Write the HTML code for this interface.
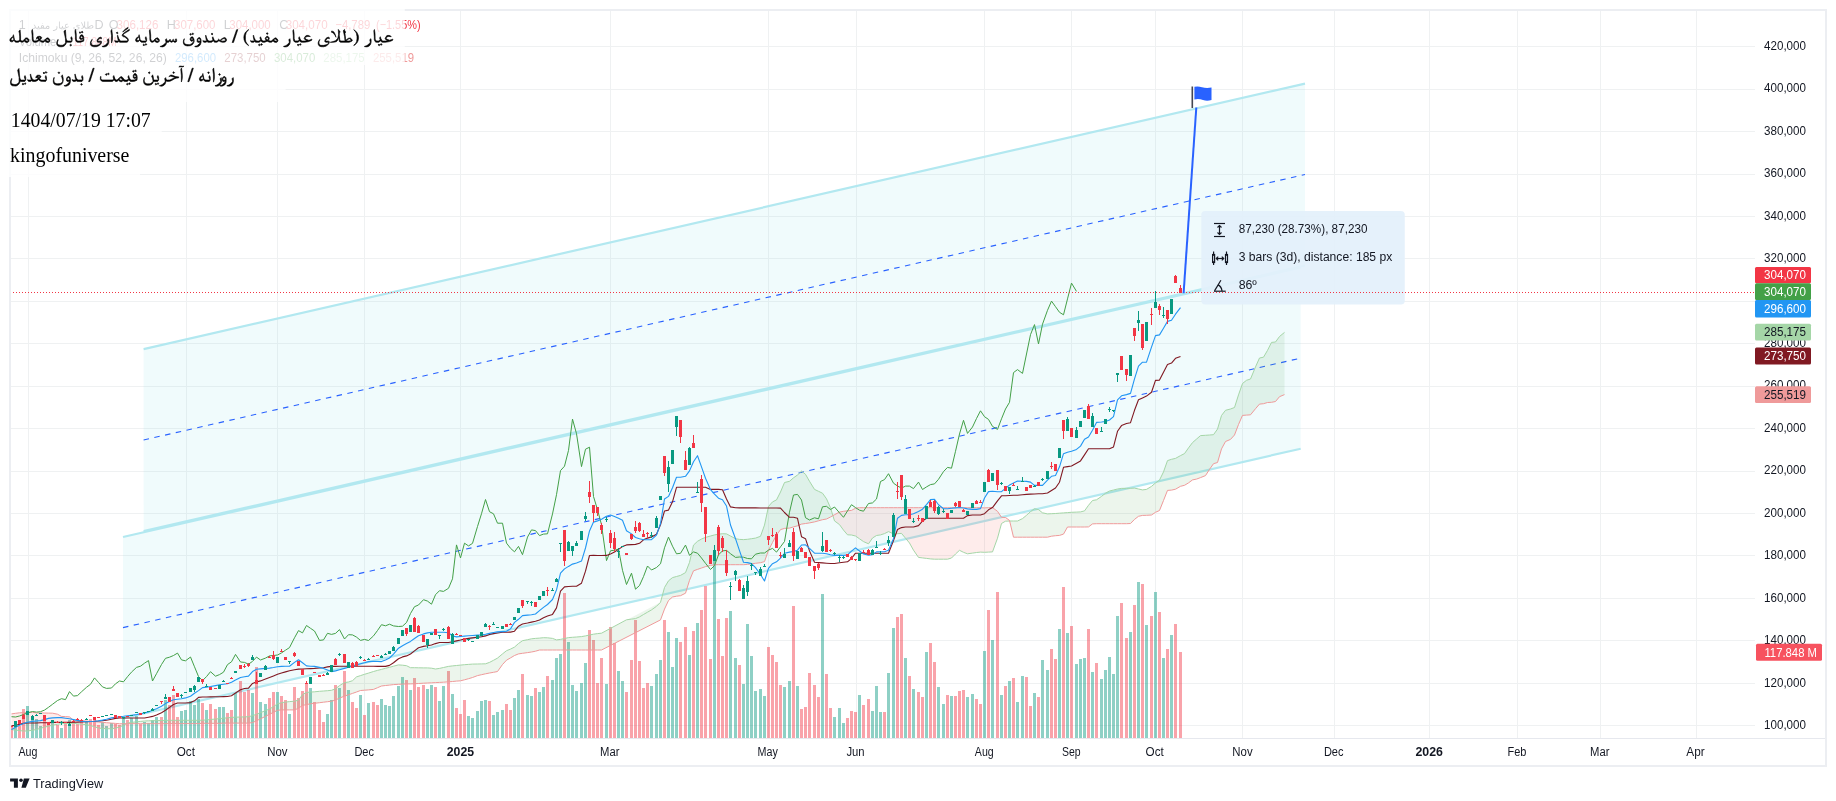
<!DOCTYPE html>
<html><head><meta charset="utf-8"><style>
html,body{margin:0;padding:0;background:#fff;width:1836px;height:801px;overflow:hidden;position:relative;font-family:"Liberation Sans",sans-serif}
</style></head><body>
<svg width="1836" height="801" viewBox="0 0 1836 801" style="position:absolute;left:0;top:0"><line x1="10" y1="725.5" x2="1755" y2="725.5" stroke="#eff1f2" stroke-width="1"/><line x1="10" y1="683.5" x2="1755" y2="683.5" stroke="#eff1f2" stroke-width="1"/><line x1="10" y1="640.5" x2="1755" y2="640.5" stroke="#eff1f2" stroke-width="1"/><line x1="10" y1="598.5" x2="1755" y2="598.5" stroke="#eff1f2" stroke-width="1"/><line x1="10" y1="555.5" x2="1755" y2="555.5" stroke="#eff1f2" stroke-width="1"/><line x1="10" y1="513.5" x2="1755" y2="513.5" stroke="#eff1f2" stroke-width="1"/><line x1="10" y1="471.5" x2="1755" y2="471.5" stroke="#eff1f2" stroke-width="1"/><line x1="10" y1="428.5" x2="1755" y2="428.5" stroke="#eff1f2" stroke-width="1"/><line x1="10" y1="386.5" x2="1755" y2="386.5" stroke="#eff1f2" stroke-width="1"/><line x1="10" y1="343.5" x2="1755" y2="343.5" stroke="#eff1f2" stroke-width="1"/><line x1="10" y1="301.5" x2="1755" y2="301.5" stroke="#eff1f2" stroke-width="1"/><line x1="10" y1="258.5" x2="1755" y2="258.5" stroke="#eff1f2" stroke-width="1"/><line x1="10" y1="216.5" x2="1755" y2="216.5" stroke="#eff1f2" stroke-width="1"/><line x1="10" y1="174.5" x2="1755" y2="174.5" stroke="#eff1f2" stroke-width="1"/><line x1="10" y1="131.5" x2="1755" y2="131.5" stroke="#eff1f2" stroke-width="1"/><line x1="10" y1="89.5" x2="1755" y2="89.5" stroke="#eff1f2" stroke-width="1"/><line x1="10" y1="46.5" x2="1755" y2="46.5" stroke="#eff1f2" stroke-width="1"/><line x1="28.5" y1="10" x2="28.5" y2="738" stroke="#eff1f2" stroke-width="1"/><line x1="186.5" y1="10" x2="186.5" y2="738" stroke="#eff1f2" stroke-width="1"/><line x1="277.5" y1="10" x2="277.5" y2="738" stroke="#eff1f2" stroke-width="1"/><line x1="364.5" y1="10" x2="364.5" y2="738" stroke="#eff1f2" stroke-width="1"/><line x1="460.5" y1="10" x2="460.5" y2="738" stroke="#eff1f2" stroke-width="1"/><line x1="610.5" y1="10" x2="610.5" y2="738" stroke="#eff1f2" stroke-width="1"/><line x1="768.5" y1="10" x2="768.5" y2="738" stroke="#eff1f2" stroke-width="1"/><line x1="856.5" y1="10" x2="856.5" y2="738" stroke="#eff1f2" stroke-width="1"/><line x1="984.5" y1="10" x2="984.5" y2="738" stroke="#eff1f2" stroke-width="1"/><line x1="1071.5" y1="10" x2="1071.5" y2="738" stroke="#eff1f2" stroke-width="1"/><line x1="1155.5" y1="10" x2="1155.5" y2="738" stroke="#eff1f2" stroke-width="1"/><line x1="1242.5" y1="10" x2="1242.5" y2="738" stroke="#eff1f2" stroke-width="1"/><line x1="1334.5" y1="10" x2="1334.5" y2="738" stroke="#eff1f2" stroke-width="1"/><line x1="1429.5" y1="10" x2="1429.5" y2="738" stroke="#eff1f2" stroke-width="1"/><line x1="1517.5" y1="10" x2="1517.5" y2="738" stroke="#eff1f2" stroke-width="1"/><line x1="1600.5" y1="10" x2="1600.5" y2="738" stroke="#eff1f2" stroke-width="1"/><line x1="1696.5" y1="10" x2="1696.5" y2="738" stroke="#eff1f2" stroke-width="1"/><polygon points="143.6,349.1 1305,83.6 1305,265.5 143.6,531.0" fill="rgba(128,222,234,0.12)"/><polygon points="123,537.0 1300.7,267.5 1300.7,448.7 123,718.2" fill="rgba(128,222,234,0.12)"/><line x1="143.6" y1="349.1" x2="1305" y2="83.6" stroke="#b2e8f0" stroke-width="2.2"/><line x1="143.6" y1="531.0" x2="1305" y2="265.5" stroke="#b2e8f0" stroke-width="2.2"/><line x1="143.6" y1="440.0" x2="1305" y2="174.5" stroke="#2962ff" stroke-width="1.1" stroke-dasharray="5.5 5.5"/><line x1="123" y1="537.0" x2="1300.7" y2="267.5" stroke="#b2e8f0" stroke-width="2.2"/><line x1="123" y1="718.2" x2="1300.7" y2="448.7" stroke="#b2e8f0" stroke-width="2.2"/><line x1="123" y1="627.6" x2="1300.7" y2="358.1" stroke="#2962ff" stroke-width="1.1" stroke-dasharray="5.5 5.5"/><g shape-rendering="crispEdges"><rect x="10" y="727" width="3" height="11" fill="rgba(242,54,69,0.46)"/><rect x="14" y="721" width="3" height="17" fill="rgba(8,153,129,0.46)"/><rect x="18" y="726" width="3" height="12" fill="rgba(242,54,69,0.46)"/><rect x="22" y="709" width="3" height="29" fill="rgba(242,54,69,0.46)"/><rect x="26" y="706" width="3" height="32" fill="rgba(8,153,129,0.46)"/><rect x="31" y="716" width="3" height="22" fill="rgba(8,153,129,0.46)"/><rect x="35" y="719" width="3" height="19" fill="rgba(8,153,129,0.46)"/><rect x="39" y="726" width="3" height="12" fill="rgba(8,153,129,0.46)"/><rect x="43" y="720" width="3" height="18" fill="rgba(242,54,69,0.46)"/><rect x="47" y="722" width="3" height="16" fill="rgba(242,54,69,0.46)"/><rect x="51" y="720" width="3" height="18" fill="rgba(8,153,129,0.46)"/><rect x="56" y="725" width="3" height="13" fill="rgba(242,54,69,0.46)"/><rect x="60" y="728" width="3" height="10" fill="rgba(8,153,129,0.46)"/><rect x="64" y="723" width="3" height="15" fill="rgba(242,54,69,0.46)"/><rect x="68" y="720" width="3" height="18" fill="rgba(8,153,129,0.46)"/><rect x="72" y="721" width="3" height="17" fill="rgba(242,54,69,0.46)"/><rect x="76" y="724" width="3" height="14" fill="rgba(242,54,69,0.46)"/><rect x="80" y="722" width="3" height="16" fill="rgba(242,54,69,0.46)"/><rect x="85" y="722" width="3" height="16" fill="rgba(8,153,129,0.46)"/><rect x="89" y="719" width="3" height="19" fill="rgba(242,54,69,0.46)"/><rect x="93" y="720" width="3" height="18" fill="rgba(242,54,69,0.46)"/><rect x="97" y="725" width="3" height="13" fill="rgba(242,54,69,0.46)"/><rect x="101" y="722" width="3" height="16" fill="rgba(8,153,129,0.46)"/><rect x="105" y="726" width="3" height="12" fill="rgba(8,153,129,0.46)"/><rect x="110" y="723" width="3" height="15" fill="rgba(8,153,129,0.46)"/><rect x="114" y="724" width="3" height="14" fill="rgba(242,54,69,0.46)"/><rect x="118" y="725" width="3" height="13" fill="rgba(242,54,69,0.46)"/><rect x="122" y="718" width="3" height="20" fill="rgba(8,153,129,0.46)"/><rect x="126" y="720" width="3" height="18" fill="rgba(242,54,69,0.46)"/><rect x="130" y="718" width="3" height="20" fill="rgba(8,153,129,0.46)"/><rect x="135" y="716" width="3" height="22" fill="rgba(8,153,129,0.46)"/><rect x="139" y="724" width="3" height="14" fill="rgba(242,54,69,0.46)"/><rect x="143" y="722" width="3" height="16" fill="rgba(8,153,129,0.46)"/><rect x="147" y="723" width="3" height="15" fill="rgba(8,153,129,0.46)"/><rect x="151" y="720" width="3" height="18" fill="rgba(8,153,129,0.46)"/><rect x="155" y="717" width="3" height="21" fill="rgba(8,153,129,0.46)"/><rect x="160" y="717" width="3" height="21" fill="rgba(242,54,69,0.46)"/><rect x="164" y="700" width="3" height="38" fill="rgba(8,153,129,0.46)"/><rect x="168" y="705" width="3" height="33" fill="rgba(242,54,69,0.46)"/><rect x="172" y="695" width="3" height="43" fill="rgba(242,54,69,0.46)"/><rect x="176" y="717" width="3" height="21" fill="rgba(242,54,69,0.46)"/><rect x="180" y="711" width="3" height="27" fill="rgba(8,153,129,0.46)"/><rect x="184" y="710" width="3" height="28" fill="rgba(8,153,129,0.46)"/><rect x="189" y="701" width="3" height="37" fill="rgba(8,153,129,0.46)"/><rect x="193" y="705" width="3" height="33" fill="rgba(8,153,129,0.46)"/><rect x="197" y="699" width="3" height="39" fill="rgba(8,153,129,0.46)"/><rect x="201" y="703" width="3" height="35" fill="rgba(242,54,69,0.46)"/><rect x="205" y="710" width="3" height="28" fill="rgba(8,153,129,0.46)"/><rect x="209" y="704" width="3" height="34" fill="rgba(242,54,69,0.46)"/><rect x="214" y="709" width="3" height="29" fill="rgba(242,54,69,0.46)"/><rect x="218" y="707" width="3" height="31" fill="rgba(8,153,129,0.46)"/><rect x="222" y="707" width="3" height="31" fill="rgba(8,153,129,0.46)"/><rect x="226" y="713" width="3" height="25" fill="rgba(242,54,69,0.46)"/><rect x="230" y="710" width="3" height="28" fill="rgba(242,54,69,0.46)"/><rect x="234" y="693" width="3" height="45" fill="rgba(8,153,129,0.46)"/><rect x="239" y="681" width="3" height="57" fill="rgba(242,54,69,0.46)"/><rect x="243" y="692" width="3" height="46" fill="rgba(242,54,69,0.46)"/><rect x="247" y="690" width="3" height="48" fill="rgba(242,54,69,0.46)"/><rect x="251" y="693" width="3" height="45" fill="rgba(8,153,129,0.46)"/><rect x="255" y="667" width="3" height="71" fill="rgba(242,54,69,0.46)"/><rect x="259" y="702" width="3" height="36" fill="rgba(8,153,129,0.46)"/><rect x="264" y="704" width="3" height="34" fill="rgba(8,153,129,0.46)"/><rect x="268" y="698" width="3" height="40" fill="rgba(242,54,69,0.46)"/><rect x="272" y="692" width="3" height="46" fill="rgba(242,54,69,0.46)"/><rect x="276" y="692" width="3" height="46" fill="rgba(8,153,129,0.46)"/><rect x="280" y="696" width="3" height="42" fill="rgba(242,54,69,0.46)"/><rect x="284" y="700" width="3" height="38" fill="rgba(242,54,69,0.46)"/><rect x="288" y="714" width="3" height="24" fill="rgba(8,153,129,0.46)"/><rect x="293" y="687" width="3" height="51" fill="rgba(242,54,69,0.46)"/><rect x="297" y="698" width="3" height="40" fill="rgba(242,54,69,0.46)"/><rect x="301" y="691" width="3" height="47" fill="rgba(242,54,69,0.46)"/><rect x="305" y="684" width="3" height="54" fill="rgba(242,54,69,0.46)"/><rect x="309" y="688" width="3" height="50" fill="rgba(8,153,129,0.46)"/><rect x="313" y="702" width="3" height="36" fill="rgba(242,54,69,0.46)"/><rect x="318" y="710" width="3" height="28" fill="rgba(242,54,69,0.46)"/><rect x="322" y="722" width="3" height="16" fill="rgba(242,54,69,0.46)"/><rect x="326" y="714" width="3" height="24" fill="rgba(8,153,129,0.46)"/><rect x="330" y="700" width="3" height="38" fill="rgba(8,153,129,0.46)"/><rect x="334" y="685" width="3" height="53" fill="rgba(242,54,69,0.46)"/><rect x="338" y="688" width="3" height="50" fill="rgba(8,153,129,0.46)"/><rect x="343" y="671" width="3" height="67" fill="rgba(242,54,69,0.46)"/><rect x="347" y="690" width="3" height="48" fill="rgba(8,153,129,0.46)"/><rect x="351" y="702" width="3" height="36" fill="rgba(242,54,69,0.46)"/><rect x="355" y="708" width="3" height="30" fill="rgba(242,54,69,0.46)"/><rect x="359" y="695" width="3" height="43" fill="rgba(8,153,129,0.46)"/><rect x="363" y="715" width="3" height="23" fill="rgba(242,54,69,0.46)"/><rect x="367" y="703" width="3" height="35" fill="rgba(8,153,129,0.46)"/><rect x="372" y="702" width="3" height="36" fill="rgba(242,54,69,0.46)"/><rect x="376" y="705" width="3" height="33" fill="rgba(242,54,69,0.46)"/><rect x="380" y="699" width="3" height="39" fill="rgba(8,153,129,0.46)"/><rect x="384" y="705" width="3" height="33" fill="rgba(8,153,129,0.46)"/><rect x="388" y="706" width="3" height="32" fill="rgba(8,153,129,0.46)"/><rect x="392" y="696" width="3" height="42" fill="rgba(8,153,129,0.46)"/><rect x="397" y="686" width="3" height="52" fill="rgba(8,153,129,0.46)"/><rect x="401" y="677" width="3" height="61" fill="rgba(8,153,129,0.46)"/><rect x="405" y="680" width="3" height="58" fill="rgba(242,54,69,0.46)"/><rect x="409" y="690" width="3" height="48" fill="rgba(8,153,129,0.46)"/><rect x="413" y="678" width="3" height="60" fill="rgba(242,54,69,0.46)"/><rect x="417" y="687" width="3" height="51" fill="rgba(242,54,69,0.46)"/><rect x="422" y="685" width="3" height="53" fill="rgba(242,54,69,0.46)"/><rect x="426" y="689" width="3" height="49" fill="rgba(8,153,129,0.46)"/><rect x="430" y="685" width="3" height="53" fill="rgba(8,153,129,0.46)"/><rect x="434" y="687" width="3" height="51" fill="rgba(242,54,69,0.46)"/><rect x="438" y="701" width="3" height="37" fill="rgba(8,153,129,0.46)"/><rect x="442" y="686" width="3" height="52" fill="rgba(8,153,129,0.46)"/><rect x="447" y="671" width="3" height="67" fill="rgba(242,54,69,0.46)"/><rect x="451" y="694" width="3" height="44" fill="rgba(8,153,129,0.46)"/><rect x="455" y="708" width="3" height="30" fill="rgba(242,54,69,0.46)"/><rect x="459" y="714" width="3" height="24" fill="rgba(242,54,69,0.46)"/><rect x="463" y="700" width="3" height="38" fill="rgba(242,54,69,0.46)"/><rect x="467" y="716" width="3" height="22" fill="rgba(8,153,129,0.46)"/><rect x="471" y="718" width="3" height="20" fill="rgba(8,153,129,0.46)"/><rect x="476" y="711" width="3" height="27" fill="rgba(8,153,129,0.46)"/><rect x="480" y="701" width="3" height="37" fill="rgba(8,153,129,0.46)"/><rect x="484" y="700" width="3" height="38" fill="rgba(8,153,129,0.46)"/><rect x="488" y="701" width="3" height="37" fill="rgba(242,54,69,0.46)"/><rect x="492" y="715" width="3" height="23" fill="rgba(8,153,129,0.46)"/><rect x="496" y="712" width="3" height="26" fill="rgba(8,153,129,0.46)"/><rect x="501" y="710" width="3" height="28" fill="rgba(8,153,129,0.46)"/><rect x="505" y="704" width="3" height="34" fill="rgba(242,54,69,0.46)"/><rect x="509" y="710" width="3" height="28" fill="rgba(242,54,69,0.46)"/><rect x="513" y="698" width="3" height="40" fill="rgba(8,153,129,0.46)"/><rect x="517" y="690" width="3" height="48" fill="rgba(8,153,129,0.46)"/><rect x="521" y="674" width="3" height="64" fill="rgba(242,54,69,0.46)"/><rect x="526" y="695" width="3" height="43" fill="rgba(8,153,129,0.46)"/><rect x="530" y="696" width="3" height="42" fill="rgba(8,153,129,0.46)"/><rect x="534" y="688" width="3" height="50" fill="rgba(242,54,69,0.46)"/><rect x="538" y="692" width="3" height="46" fill="rgba(8,153,129,0.46)"/><rect x="542" y="687" width="3" height="51" fill="rgba(8,153,129,0.46)"/><rect x="546" y="676" width="3" height="62" fill="rgba(242,54,69,0.46)"/><rect x="551" y="680" width="3" height="58" fill="rgba(8,153,129,0.46)"/><rect x="555" y="658" width="3" height="80" fill="rgba(8,153,129,0.46)"/><rect x="559" y="654" width="3" height="84" fill="rgba(8,153,129,0.46)"/><rect x="563" y="593" width="3" height="145" fill="rgba(242,54,69,0.46)"/><rect x="567" y="642" width="3" height="96" fill="rgba(8,153,129,0.46)"/><rect x="571" y="685" width="3" height="53" fill="rgba(8,153,129,0.46)"/><rect x="575" y="691" width="3" height="47" fill="rgba(8,153,129,0.46)"/><rect x="580" y="683" width="3" height="55" fill="rgba(8,153,129,0.46)"/><rect x="584" y="663" width="3" height="75" fill="rgba(8,153,129,0.46)"/><rect x="588" y="630" width="3" height="108" fill="rgba(242,54,69,0.46)"/><rect x="592" y="640" width="3" height="98" fill="rgba(242,54,69,0.46)"/><rect x="596" y="683" width="3" height="55" fill="rgba(242,54,69,0.46)"/><rect x="600" y="658" width="3" height="80" fill="rgba(242,54,69,0.46)"/><rect x="605" y="684" width="3" height="54" fill="rgba(8,153,129,0.46)"/><rect x="609" y="627" width="3" height="111" fill="rgba(242,54,69,0.46)"/><rect x="613" y="643" width="3" height="95" fill="rgba(242,54,69,0.46)"/><rect x="617" y="671" width="3" height="67" fill="rgba(8,153,129,0.46)"/><rect x="621" y="681" width="3" height="57" fill="rgba(8,153,129,0.46)"/><rect x="625" y="692" width="3" height="46" fill="rgba(242,54,69,0.46)"/><rect x="630" y="660" width="3" height="78" fill="rgba(242,54,69,0.46)"/><rect x="634" y="620" width="3" height="118" fill="rgba(242,54,69,0.46)"/><rect x="638" y="661" width="3" height="77" fill="rgba(242,54,69,0.46)"/><rect x="642" y="688" width="3" height="50" fill="rgba(242,54,69,0.46)"/><rect x="646" y="683" width="3" height="55" fill="rgba(242,54,69,0.46)"/><rect x="650" y="686" width="3" height="52" fill="rgba(8,153,129,0.46)"/><rect x="655" y="674" width="3" height="64" fill="rgba(8,153,129,0.46)"/><rect x="659" y="660" width="3" height="78" fill="rgba(8,153,129,0.46)"/><rect x="663" y="620" width="3" height="118" fill="rgba(242,54,69,0.46)"/><rect x="667" y="632" width="3" height="106" fill="rgba(8,153,129,0.46)"/><rect x="671" y="667" width="3" height="71" fill="rgba(8,153,129,0.46)"/><rect x="675" y="638" width="3" height="100" fill="rgba(8,153,129,0.46)"/><rect x="679" y="642" width="3" height="96" fill="rgba(242,54,69,0.46)"/><rect x="684" y="627" width="3" height="111" fill="rgba(242,54,69,0.46)"/><rect x="688" y="655" width="3" height="83" fill="rgba(8,153,129,0.46)"/><rect x="692" y="631" width="3" height="107" fill="rgba(242,54,69,0.46)"/><rect x="696" y="623" width="3" height="115" fill="rgba(8,153,129,0.46)"/><rect x="700" y="610" width="3" height="128" fill="rgba(242,54,69,0.46)"/><rect x="704" y="586" width="3" height="152" fill="rgba(242,54,69,0.46)"/><rect x="709" y="659" width="3" height="79" fill="rgba(242,54,69,0.46)"/><rect x="713" y="561" width="3" height="177" fill="rgba(8,153,129,0.46)"/><rect x="717" y="619" width="3" height="119" fill="rgba(242,54,69,0.46)"/><rect x="721" y="656" width="3" height="82" fill="rgba(242,54,69,0.46)"/><rect x="725" y="618" width="3" height="120" fill="rgba(242,54,69,0.46)"/><rect x="729" y="611" width="3" height="127" fill="rgba(8,153,129,0.46)"/><rect x="734" y="658" width="3" height="80" fill="rgba(8,153,129,0.46)"/><rect x="738" y="665" width="3" height="73" fill="rgba(242,54,69,0.46)"/><rect x="742" y="684" width="3" height="54" fill="rgba(8,153,129,0.46)"/><rect x="746" y="624" width="3" height="114" fill="rgba(8,153,129,0.46)"/><rect x="750" y="656" width="3" height="82" fill="rgba(8,153,129,0.46)"/><rect x="754" y="691" width="3" height="47" fill="rgba(8,153,129,0.46)"/><rect x="759" y="689" width="3" height="49" fill="rgba(8,153,129,0.46)"/><rect x="763" y="696" width="3" height="42" fill="rgba(8,153,129,0.46)"/><rect x="767" y="647" width="3" height="91" fill="rgba(242,54,69,0.46)"/><rect x="771" y="655" width="3" height="83" fill="rgba(242,54,69,0.46)"/><rect x="775" y="662" width="3" height="76" fill="rgba(242,54,69,0.46)"/><rect x="779" y="685" width="3" height="53" fill="rgba(242,54,69,0.46)"/><rect x="783" y="687" width="3" height="51" fill="rgba(8,153,129,0.46)"/><rect x="788" y="681" width="3" height="57" fill="rgba(8,153,129,0.46)"/><rect x="792" y="606" width="3" height="132" fill="rgba(242,54,69,0.46)"/><rect x="796" y="686" width="3" height="52" fill="rgba(8,153,129,0.46)"/><rect x="800" y="709" width="3" height="29" fill="rgba(242,54,69,0.46)"/><rect x="804" y="707" width="3" height="31" fill="rgba(242,54,69,0.46)"/><rect x="808" y="673" width="3" height="65" fill="rgba(242,54,69,0.46)"/><rect x="813" y="685" width="3" height="53" fill="rgba(242,54,69,0.46)"/><rect x="817" y="697" width="3" height="41" fill="rgba(242,54,69,0.46)"/><rect x="821" y="594" width="3" height="144" fill="rgba(8,153,129,0.46)"/><rect x="825" y="674" width="3" height="64" fill="rgba(242,54,69,0.46)"/><rect x="829" y="708" width="3" height="30" fill="rgba(242,54,69,0.46)"/><rect x="833" y="717" width="3" height="21" fill="rgba(8,153,129,0.46)"/><rect x="838" y="708" width="3" height="30" fill="rgba(8,153,129,0.46)"/><rect x="842" y="723" width="3" height="15" fill="rgba(8,153,129,0.46)"/><rect x="846" y="718" width="3" height="20" fill="rgba(242,54,69,0.46)"/><rect x="850" y="711" width="3" height="27" fill="rgba(242,54,69,0.46)"/><rect x="854" y="712" width="3" height="26" fill="rgba(242,54,69,0.46)"/><rect x="858" y="695" width="3" height="43" fill="rgba(8,153,129,0.46)"/><rect x="862" y="705" width="3" height="33" fill="rgba(242,54,69,0.46)"/><rect x="867" y="699" width="3" height="39" fill="rgba(242,54,69,0.46)"/><rect x="871" y="711" width="3" height="27" fill="rgba(8,153,129,0.46)"/><rect x="875" y="686" width="3" height="52" fill="rgba(8,153,129,0.46)"/><rect x="879" y="712" width="3" height="26" fill="rgba(8,153,129,0.46)"/><rect x="883" y="712" width="3" height="26" fill="rgba(242,54,69,0.46)"/><rect x="887" y="673" width="3" height="65" fill="rgba(8,153,129,0.46)"/><rect x="892" y="628" width="3" height="110" fill="rgba(8,153,129,0.46)"/><rect x="896" y="617" width="3" height="121" fill="rgba(242,54,69,0.46)"/><rect x="900" y="614" width="3" height="124" fill="rgba(242,54,69,0.46)"/><rect x="904" y="658" width="3" height="80" fill="rgba(8,153,129,0.46)"/><rect x="908" y="676" width="3" height="62" fill="rgba(242,54,69,0.46)"/><rect x="912" y="689" width="3" height="49" fill="rgba(8,153,129,0.46)"/><rect x="917" y="692" width="3" height="46" fill="rgba(242,54,69,0.46)"/><rect x="921" y="697" width="3" height="41" fill="rgba(242,54,69,0.46)"/><rect x="925" y="652" width="3" height="86" fill="rgba(8,153,129,0.46)"/><rect x="929" y="643" width="3" height="95" fill="rgba(242,54,69,0.46)"/><rect x="933" y="662" width="3" height="76" fill="rgba(242,54,69,0.46)"/><rect x="937" y="687" width="3" height="51" fill="rgba(8,153,129,0.46)"/><rect x="942" y="704" width="3" height="34" fill="rgba(8,153,129,0.46)"/><rect x="946" y="695" width="3" height="43" fill="rgba(242,54,69,0.46)"/><rect x="950" y="696" width="3" height="42" fill="rgba(8,153,129,0.46)"/><rect x="954" y="696" width="3" height="42" fill="rgba(242,54,69,0.46)"/><rect x="958" y="691" width="3" height="47" fill="rgba(242,54,69,0.46)"/><rect x="962" y="690" width="3" height="48" fill="rgba(242,54,69,0.46)"/><rect x="966" y="697" width="3" height="41" fill="rgba(8,153,129,0.46)"/><rect x="971" y="694" width="3" height="44" fill="rgba(8,153,129,0.46)"/><rect x="975" y="699" width="3" height="39" fill="rgba(242,54,69,0.46)"/><rect x="979" y="704" width="3" height="34" fill="rgba(242,54,69,0.46)"/><rect x="983" y="651" width="3" height="87" fill="rgba(8,153,129,0.46)"/><rect x="987" y="610" width="3" height="128" fill="rgba(242,54,69,0.46)"/><rect x="991" y="640" width="3" height="98" fill="rgba(8,153,129,0.46)"/><rect x="996" y="592" width="3" height="146" fill="rgba(242,54,69,0.46)"/><rect x="1000" y="695" width="3" height="43" fill="rgba(8,153,129,0.46)"/><rect x="1004" y="686" width="3" height="52" fill="rgba(242,54,69,0.46)"/><rect x="1008" y="681" width="3" height="57" fill="rgba(8,153,129,0.46)"/><rect x="1012" y="678" width="3" height="60" fill="rgba(242,54,69,0.46)"/><rect x="1016" y="702" width="3" height="36" fill="rgba(8,153,129,0.46)"/><rect x="1021" y="676" width="3" height="62" fill="rgba(8,153,129,0.46)"/><rect x="1025" y="677" width="3" height="61" fill="rgba(242,54,69,0.46)"/><rect x="1029" y="706" width="3" height="32" fill="rgba(242,54,69,0.46)"/><rect x="1033" y="693" width="3" height="45" fill="rgba(8,153,129,0.46)"/><rect x="1037" y="697" width="3" height="41" fill="rgba(242,54,69,0.46)"/><rect x="1041" y="660" width="3" height="78" fill="rgba(8,153,129,0.46)"/><rect x="1046" y="670" width="3" height="68" fill="rgba(8,153,129,0.46)"/><rect x="1050" y="649" width="3" height="89" fill="rgba(242,54,69,0.46)"/><rect x="1054" y="659" width="3" height="79" fill="rgba(242,54,69,0.46)"/><rect x="1058" y="629" width="3" height="109" fill="rgba(8,153,129,0.46)"/><rect x="1062" y="587" width="3" height="151" fill="rgba(242,54,69,0.46)"/><rect x="1066" y="633" width="3" height="105" fill="rgba(8,153,129,0.46)"/><rect x="1070" y="626" width="3" height="112" fill="rgba(242,54,69,0.46)"/><rect x="1075" y="664" width="3" height="74" fill="rgba(8,153,129,0.46)"/><rect x="1079" y="659" width="3" height="79" fill="rgba(8,153,129,0.46)"/><rect x="1083" y="658" width="3" height="80" fill="rgba(8,153,129,0.46)"/><rect x="1087" y="629" width="3" height="109" fill="rgba(242,54,69,0.46)"/><rect x="1091" y="672" width="3" height="66" fill="rgba(8,153,129,0.46)"/><rect x="1095" y="663" width="3" height="75" fill="rgba(242,54,69,0.46)"/><rect x="1100" y="679" width="3" height="59" fill="rgba(8,153,129,0.46)"/><rect x="1104" y="670" width="3" height="68" fill="rgba(8,153,129,0.46)"/><rect x="1108" y="657" width="3" height="81" fill="rgba(8,153,129,0.46)"/><rect x="1112" y="674" width="3" height="64" fill="rgba(8,153,129,0.46)"/><rect x="1116" y="616" width="3" height="122" fill="rgba(8,153,129,0.46)"/><rect x="1120" y="603" width="3" height="135" fill="rgba(242,54,69,0.46)"/><rect x="1125" y="638" width="3" height="100" fill="rgba(242,54,69,0.46)"/><rect x="1129" y="632" width="3" height="106" fill="rgba(8,153,129,0.46)"/><rect x="1133" y="605" width="3" height="133" fill="rgba(242,54,69,0.46)"/><rect x="1137" y="582" width="3" height="156" fill="rgba(8,153,129,0.46)"/><rect x="1141" y="584" width="3" height="154" fill="rgba(242,54,69,0.46)"/><rect x="1145" y="625" width="3" height="113" fill="rgba(8,153,129,0.46)"/><rect x="1150" y="616" width="3" height="122" fill="rgba(242,54,69,0.46)"/><rect x="1154" y="592" width="3" height="146" fill="rgba(8,153,129,0.46)"/><rect x="1158" y="612" width="3" height="126" fill="rgba(242,54,69,0.46)"/><rect x="1162" y="658" width="3" height="80" fill="rgba(8,153,129,0.46)"/><rect x="1166" y="649" width="3" height="89" fill="rgba(242,54,69,0.46)"/><rect x="1170" y="635" width="3" height="103" fill="rgba(8,153,129,0.46)"/><rect x="1174" y="624" width="3" height="114" fill="rgba(242,54,69,0.46)"/><rect x="1179" y="652" width="3" height="86" fill="rgba(242,54,69,0.46)"/></g><polygon points="11.50,729.63 15.50,730.13 19.50,730.63 23.50,730.96 27.50,730.99 32.50,730.16 36.50,729.49 40.50,728.30 44.50,727.21 48.50,726.21 52.50,725.21 57.50,724.28 61.50,723.71 65.50,723.51 69.50,723.31 73.50,723.34 77.50,723.77 81.50,724.20 86.50,724.73 90.50,725.63 94.50,726.83 98.50,728.03 102.50,728.48 106.50,728.68 111.50,728.81 115.50,728.14 119.50,727.12 123.50,725.34 126.34,723.75 126.34,723.75 123.50,723.75 119.50,723.71 115.50,723.39 111.50,723.07 106.50,722.67 102.50,722.36 98.50,722.05 94.50,721.74 90.50,721.43 86.50,721.14 81.50,720.84 77.50,720.59 73.50,720.34 69.50,716.88 65.50,716.63 61.50,716.38 57.50,714.22 52.50,713.17 48.50,713.10 44.50,713.03 40.50,712.96 36.50,712.88 32.50,712.32 27.50,712.31 23.50,712.56 19.50,712.81 15.50,713.29 11.50,713.86" fill="rgba(244,67,54,0.1)"/><polygon points="126.34,723.75 127.50,723.09 131.50,722.43 136.50,721.77 140.50,721.37 144.50,720.97 148.50,720.82 152.50,720.72 156.50,720.62 161.50,720.49 165.50,720.39 169.50,720.33 173.50,720.33 177.50,720.33 181.50,720.33 185.50,720.33 190.50,720.33 194.50,720.33 198.50,720.33 202.50,720.20 206.50,719.90 210.50,719.48 215.50,718.96 219.50,718.62 223.50,718.22 227.50,717.82 231.50,717.42 235.50,717.23 240.50,717.02 244.50,716.86 248.50,716.69 252.50,715.67 256.50,714.17 260.50,712.67 265.50,710.65 269.50,708.98 273.50,706.58 277.50,703.78 281.50,702.70 285.50,702.13 289.50,701.60 294.50,701.18 298.50,700.05 302.50,694.55 306.50,692.44 310.50,692.11 314.50,691.77 319.50,691.34 323.50,691.00 327.50,690.66 331.50,690.31 335.50,688.78 339.50,685.58 344.50,682.64 348.50,681.98 352.50,680.74 356.50,676.87 360.50,675.60 364.50,674.32 368.50,673.05 373.50,671.50 377.50,670.44 381.50,669.38 385.50,668.32 389.50,667.26 393.50,666.20 398.50,664.93 402.50,665.16 406.50,665.74 410.50,667.68 414.50,667.73 418.50,667.79 423.50,667.85 427.50,667.91 431.50,668.25 435.50,669.05 439.50,668.35 443.50,667.46 448.50,666.35 452.50,665.86 456.50,665.49 460.50,665.12 464.50,664.74 468.50,664.37 472.50,664.14 477.50,664.00 481.50,663.89 485.50,663.78 489.50,662.37 493.50,660.25 497.50,658.10 502.50,653.93 506.50,650.66 510.50,649.06 514.50,647.14 518.50,643.54 522.50,640.73 527.50,639.66 531.50,638.80 535.50,638.41 539.50,638.06 543.50,637.71 547.50,637.83 552.50,638.42 556.50,639.92 560.50,639.45 564.50,638.48 568.50,637.62 572.50,637.30 576.50,636.98 581.50,636.58 585.50,635.89 589.50,635.04 593.50,634.19 597.50,633.57 601.50,633.18 660.50,602.29 664.50,587.54 668.50,580.81 672.50,577.60 676.50,576.49 680.50,575.38 685.50,572.63 689.50,562.41 693.50,545.08 697.50,541.33 701.50,539.00 705.50,537.44 710.50,536.01 714.50,534.86 718.50,534.24 722.50,533.66 726.50,533.88 730.50,536.01 735.50,538.68 739.50,539.41 743.50,539.63 747.50,539.32 751.50,538.75 755.50,538.13 760.50,536.25 764.50,525.10 768.50,506.42 772.50,501.88 776.50,499.86 780.50,491.98 784.50,482.48 789.50,481.31 793.50,477.79 797.50,475.01 801.50,471.09 805.50,474.32 809.50,481.32 814.50,489.39 818.50,491.27 822.50,493.16 826.50,498.81 830.50,507.78 832.89,515.60 832.89,515.60 830.50,516.97 826.50,518.97 822.50,519.71 818.50,520.81 814.50,521.91 809.50,522.92 805.50,523.52 801.50,524.12 797.50,525.84 793.50,526.94 789.50,528.08 784.50,528.37 780.50,529.55 776.50,535.11 772.50,542.53 768.50,550.24 764.50,561.57 760.50,562.67 755.50,563.32 751.50,563.84 747.50,564.37 743.50,564.72 739.50,564.72 735.50,564.72 730.50,564.72 726.50,564.72 722.50,564.72 718.50,564.72 714.50,564.78 710.50,565.42 705.50,566.58 701.50,568.01 697.50,569.44 693.50,570.79 689.50,580.37 685.50,593.17 680.50,595.68 676.50,596.18 672.50,596.98 668.50,600.48 664.50,609.10 660.50,619.85 601.50,649.96 597.50,649.96 593.50,649.96 589.50,649.96 585.50,649.96 581.50,649.96 576.50,649.96 572.50,649.96 568.50,649.96 564.50,649.96 560.50,649.96 556.50,649.96 552.50,649.96 547.50,649.96 543.50,649.96 539.50,649.96 535.50,651.24 531.50,651.96 527.50,652.56 522.50,653.31 518.50,653.91 514.50,655.54 510.50,657.89 506.50,660.24 502.50,664.51 497.50,671.51 493.50,672.33 489.50,673.00 485.50,673.80 481.50,674.66 477.50,675.58 472.50,677.46 468.50,678.65 464.50,679.80 460.50,680.76 456.50,681.12 452.50,681.49 448.50,681.85 443.50,682.24 439.50,682.44 435.50,682.64 431.50,682.84 427.50,683.04 423.50,683.24 418.50,683.49 414.50,683.69 410.50,683.89 406.50,683.88 402.50,684.08 398.50,684.29 393.50,684.62 389.50,685.06 385.50,685.50 381.50,686.03 377.50,687.70 373.50,689.37 368.50,689.93 364.50,690.18 360.50,690.53 356.50,692.03 352.50,693.43 348.50,694.76 344.50,696.10 339.50,698.07 335.50,700.07 331.50,701.19 327.50,701.69 323.50,702.19 319.50,702.69 314.50,703.32 310.50,703.82 306.50,704.57 302.50,705.37 298.50,708.30 294.50,709.89 289.50,709.89 285.50,709.89 281.50,709.89 277.50,710.34 273.50,712.34 269.50,714.34 265.50,716.34 260.50,718.84 256.50,720.80 252.50,722.60 248.50,723.07 244.50,723.07 240.50,723.07 235.50,723.07 231.50,723.07 227.50,723.07 223.50,723.07 219.50,723.30 215.50,723.30 210.50,723.31 206.50,723.31 202.50,723.32 198.50,723.58 194.50,723.58 190.50,723.59 185.50,723.61 181.50,723.62 177.50,723.63 173.50,723.63 169.50,723.64 165.50,723.65 161.50,723.66 156.50,723.68 152.50,723.69 148.50,723.69 144.50,723.70 140.50,723.71 136.50,723.72 131.50,723.74 127.50,723.75 126.34,723.75" fill="rgba(67,160,71,0.1)"/><polygon points="832.89,515.60 834.50,520.87 839.50,524.60 843.50,530.07 847.50,534.79 851.50,535.03 855.50,535.96 859.50,538.76 863.50,541.56 868.50,543.78 872.50,537.98 876.50,535.52 880.50,534.85 884.50,533.65 888.50,531.65 893.50,533.77 897.50,533.67 901.50,533.43 905.50,538.23 909.50,543.03 913.50,550.16 918.50,557.38 922.50,557.90 926.50,558.42 930.50,558.94 934.50,559.18 938.50,559.18 943.50,559.18 947.50,559.18 951.50,557.98 955.50,553.98 959.50,550.29 963.50,552.29 967.50,553.82 972.50,553.07 976.50,552.47 980.50,552.13 984.50,552.28 988.50,552.11 992.50,551.90 997.50,538.18 1001.50,523.53 1005.50,521.24 1009.50,520.97 1009.63,520.97 1009.63,520.97 1009.50,520.43 1005.50,517.49 1001.50,517.27 997.50,511.31 992.50,507.62 988.50,507.75 984.50,507.87 980.50,507.68 976.50,507.68 972.50,507.68 967.50,507.68 963.50,507.68 959.50,507.68 955.50,507.68 951.50,507.68 947.50,507.68 943.50,507.68 938.50,507.68 934.50,507.68 930.50,507.68 926.50,507.68 922.50,507.68 918.50,507.68 913.50,507.68 909.50,507.68 905.50,507.68 901.50,507.68 897.50,507.68 893.50,507.68 888.50,507.68 884.50,507.68 880.50,507.68 876.50,507.68 872.50,507.68 868.50,507.68 863.50,507.68 859.50,507.68 855.50,508.16 851.50,510.37 847.50,510.85 843.50,511.29 839.50,512.12 834.50,514.68 832.89,515.60" fill="rgba(244,67,54,0.1)"/><polygon points="1009.63,520.97 1013.50,520.97 1017.50,520.97 1022.50,518.61 1026.50,515.28 1030.50,511.61 1034.50,508.68 1038.50,509.61 1042.50,512.83 1047.50,513.90 1051.50,513.75 1055.50,513.46 1059.50,513.17 1063.50,512.88 1067.50,512.60 1071.50,512.34 1076.50,512.12 1080.50,511.95 1084.50,510.93 1088.50,505.34 1092.50,500.48 1096.50,499.78 1101.50,496.37 1105.50,493.23 1109.50,490.97 1113.50,489.97 1117.50,488.97 1121.50,488.36 1126.50,488.26 1130.50,488.18 1134.50,488.10 1138.50,488.97 1142.50,489.86 1146.50,489.36 1151.50,486.38 1155.50,482.94 1159.50,480.15 1163.50,471.85 1167.50,460.59 1171.50,459.32 1175.50,458.42 1180.50,455.57 1184.50,453.60 1188.50,447.92 1192.50,442.58 1196.50,439.08 1200.50,435.65 1205.50,435.29 1209.50,435.00 1213.50,434.72 1217.50,429.10 1221.50,415.45 1225.50,410.33 1230.50,409.01 1234.50,407.47 1238.50,394.90 1242.50,383.47 1246.50,380.26 1250.50,378.98 1255.50,366.88 1259.50,358.04 1263.50,357.24 1267.50,350.39 1271.50,342.42 1275.50,342.02 1279.50,336.47 1284.50,332.35 1284.50,394.56 1279.50,396.68 1275.50,401.48 1271.50,402.28 1267.50,402.46 1263.50,403.65 1259.50,404.13 1255.50,408.66 1250.50,414.80 1246.50,415.10 1242.50,415.40 1238.50,424.54 1234.50,435.04 1230.50,439.43 1225.50,441.45 1221.50,448.87 1217.50,462.47 1213.50,463.65 1209.50,469.40 1205.50,475.62 1200.50,477.62 1196.50,479.10 1192.50,479.94 1188.50,482.91 1184.50,485.27 1180.50,486.31 1175.50,489.19 1171.50,490.09 1167.50,490.44 1163.50,500.52 1159.50,510.48 1155.50,512.31 1151.50,515.03 1146.50,515.31 1142.50,515.42 1138.50,516.28 1134.50,519.42 1130.50,523.47 1126.50,523.67 1121.50,523.67 1117.50,523.67 1113.50,523.67 1109.50,523.67 1105.50,523.67 1101.50,523.67 1096.50,523.67 1092.50,523.94 1088.50,526.87 1084.50,526.97 1080.50,526.97 1076.50,526.97 1071.50,526.97 1067.50,526.97 1063.50,534.11 1059.50,535.45 1055.50,535.73 1051.50,536.20 1047.50,537.15 1042.50,537.15 1038.50,537.15 1034.50,537.15 1030.50,537.15 1026.50,537.15 1022.50,537.15 1017.50,537.15 1013.50,537.15 1009.63,520.97" fill="rgba(67,160,71,0.1)"/><polyline points="11.5,729.6 15.5,730.1 19.5,730.6 23.5,731.0 27.5,731.0 32.5,730.2 36.5,729.5 40.5,728.3 44.5,727.2 48.5,726.2 52.5,725.2 57.5,724.3 61.5,723.7 65.5,723.5 69.5,723.3 73.5,723.3 77.5,723.8 81.5,724.2 86.5,724.7 90.5,725.6 94.5,726.8 98.5,728.0 102.5,728.5 106.5,728.7 111.5,728.8 115.5,728.1 119.5,727.1 123.5,725.3 127.5,723.1 131.5,722.4 136.5,721.8 140.5,721.4 144.5,721.0 148.5,720.8 152.5,720.7 156.5,720.6 161.5,720.5 165.5,720.4 169.5,720.3 173.5,720.3 177.5,720.3 181.5,720.3 185.5,720.3 190.5,720.3 194.5,720.3 198.5,720.3 202.5,720.2 206.5,719.9 210.5,719.5 215.5,719.0 219.5,718.6 223.5,718.2 227.5,717.8 231.5,717.4 235.5,717.2 240.5,717.0 244.5,716.9 248.5,716.7 252.5,715.7 256.5,714.2 260.5,712.7 265.5,710.6 269.5,709.0 273.5,706.6 277.5,703.8 281.5,702.7 285.5,702.1 289.5,701.6 294.5,701.2 298.5,700.1 302.5,694.6 306.5,692.4 310.5,692.1 314.5,691.8 319.5,691.3 323.5,691.0 327.5,690.7 331.5,690.3 335.5,688.8 339.5,685.6 344.5,682.6 348.5,682.0 352.5,680.7 356.5,676.9 360.5,675.6 364.5,674.3 368.5,673.1 373.5,671.5 377.5,670.4 381.5,669.4 385.5,668.3 389.5,667.3 393.5,666.2 398.5,664.9 402.5,665.2 406.5,665.7 410.5,667.7 414.5,667.7 418.5,667.8 423.5,667.9 427.5,667.9 431.5,668.2 435.5,669.0 439.5,668.4 443.5,667.5 448.5,666.4 452.5,665.9 456.5,665.5 460.5,665.1 464.5,664.7 468.5,664.4 472.5,664.1 477.5,664.0 481.5,663.9 485.5,663.8 489.5,662.4 493.5,660.3 497.5,658.1 502.5,653.9 506.5,650.7 510.5,649.1 514.5,647.1 518.5,643.5 522.5,640.7 527.5,639.7 531.5,638.8 535.5,638.4 539.5,638.1 543.5,637.7 547.5,637.8 552.5,638.4 556.5,639.9 560.5,639.4 564.5,638.5 568.5,637.6 572.5,637.3 576.5,637.0 581.5,636.6 585.5,635.9 589.5,635.0 593.5,634.2 597.5,633.6 601.5,633.2 626.5,619.8 631.5,619.1 635.5,618.6 639.5,616.9 643.5,614.5 647.5,612.2 651.5,609.9 656.5,606.3 660.5,602.3 664.5,587.5 668.5,580.8 672.5,577.6 676.5,576.5 680.5,575.4 685.5,572.6 689.5,562.4 693.5,545.1 697.5,541.3 701.5,539.0 705.5,537.4 710.5,536.0 714.5,534.9 718.5,534.2 722.5,533.7 726.5,533.9 730.5,536.0 735.5,538.7 739.5,539.4 743.5,539.6 747.5,539.3 751.5,538.7 755.5,538.1 760.5,536.3 764.5,525.1 768.5,506.4 772.5,501.9 776.5,499.9 780.5,492.0 784.5,482.5 789.5,481.3 793.5,477.8 797.5,475.0 801.5,471.1 805.5,474.3 809.5,481.3 814.5,489.4 818.5,491.3 822.5,493.2 826.5,498.8 830.5,507.8 834.5,520.9 839.5,524.6 843.5,530.1 847.5,534.8 851.5,535.0 855.5,536.0 859.5,538.8 863.5,541.6 868.5,543.8 872.5,538.0 876.5,535.5 880.5,534.9 884.5,533.6 888.5,531.6 893.5,533.8 897.5,533.7 901.5,533.4 905.5,538.2 909.5,543.0 913.5,550.2 918.5,557.4 922.5,557.9 926.5,558.4 930.5,558.9 934.5,559.2 938.5,559.2 943.5,559.2 947.5,559.2 951.5,558.0 955.5,554.0 959.5,550.3 963.5,552.3 967.5,553.8 972.5,553.1 976.5,552.5 980.5,552.1 984.5,552.3 988.5,552.1 992.5,551.9 997.5,538.2 1001.5,523.5 1005.5,521.2 1009.5,521.0 1013.5,521.0 1017.5,521.0 1022.5,518.6 1026.5,515.3 1030.5,511.6 1034.5,508.7 1038.5,509.6 1042.5,512.8 1047.5,513.9 1051.5,513.7 1055.5,513.5 1059.5,513.2 1063.5,512.9 1067.5,512.6 1071.5,512.3 1076.5,512.1 1080.5,511.9 1084.5,510.9 1088.5,505.3 1092.5,500.5 1096.5,499.8 1101.5,496.4 1105.5,493.2 1109.5,491.0 1113.5,490.0 1117.5,489.0 1121.5,488.4 1126.5,488.3 1130.5,488.2 1134.5,488.1 1138.5,489.0 1142.5,489.9 1146.5,489.4 1151.5,486.4 1155.5,482.9 1159.5,480.1 1163.5,471.9 1167.5,460.6 1171.5,459.3 1175.5,458.4 1180.5,455.6 1184.5,453.6 1188.5,447.9 1192.5,442.6 1196.5,439.1 1200.5,435.6 1205.5,435.3 1209.5,435.0 1213.5,434.7 1217.5,429.1 1221.5,415.5 1225.5,410.3 1230.5,409.0 1234.5,407.5 1238.5,394.9 1242.5,383.5 1246.5,380.3 1250.5,379.0 1255.5,366.9 1259.5,358.0 1263.5,357.2 1267.5,350.4 1271.5,342.4 1275.5,342.0 1279.5,336.5 1284.5,332.4" fill="none" stroke="#a5d6a7" stroke-width="1"/><polyline points="11.5,713.9 15.5,713.3 19.5,712.8 23.5,712.6 27.5,712.3 32.5,712.3 36.5,712.9 40.5,713.0 44.5,713.0 48.5,713.1 52.5,713.2 57.5,714.2 61.5,716.4 65.5,716.6 69.5,716.9 73.5,720.3 77.5,720.6 81.5,720.8 86.5,721.1 90.5,721.4 94.5,721.7 98.5,722.1 102.5,722.4 106.5,722.7 111.5,723.1 115.5,723.4 119.5,723.7 123.5,723.8 127.5,723.7 131.5,723.7 136.5,723.7 140.5,723.7 144.5,723.7 148.5,723.7 152.5,723.7 156.5,723.7 161.5,723.7 165.5,723.7 169.5,723.6 173.5,723.6 177.5,723.6 181.5,723.6 185.5,723.6 190.5,723.6 194.5,723.6 198.5,723.6 202.5,723.3 206.5,723.3 210.5,723.3 215.5,723.3 219.5,723.3 223.5,723.1 227.5,723.1 231.5,723.1 235.5,723.1 240.5,723.1 244.5,723.1 248.5,723.1 252.5,722.6 256.5,720.8 260.5,718.8 265.5,716.3 269.5,714.3 273.5,712.3 277.5,710.3 281.5,709.9 285.5,709.9 289.5,709.9 294.5,709.9 298.5,708.3 302.5,705.4 306.5,704.6 310.5,703.8 314.5,703.3 319.5,702.7 323.5,702.2 327.5,701.7 331.5,701.2 335.5,700.1 339.5,698.1 344.5,696.1 348.5,694.8 352.5,693.4 356.5,692.0 360.5,690.5 364.5,690.2 368.5,689.9 373.5,689.4 377.5,687.7 381.5,686.0 385.5,685.5 389.5,685.1 393.5,684.6 398.5,684.3 402.5,684.1 406.5,683.9 410.5,683.9 414.5,683.7 418.5,683.5 423.5,683.2 427.5,683.0 431.5,682.8 435.5,682.6 439.5,682.4 443.5,682.2 448.5,681.8 452.5,681.5 456.5,681.1 460.5,680.8 464.5,679.8 468.5,678.7 472.5,677.5 477.5,675.6 481.5,674.7 485.5,673.8 489.5,673.0 493.5,672.3 497.5,671.5 502.5,664.5 506.5,660.2 510.5,657.9 514.5,655.5 518.5,653.9 522.5,653.3 527.5,652.6 531.5,652.0 535.5,651.2 539.5,650.0 543.5,650.0 547.5,650.0 552.5,650.0 556.5,650.0 560.5,650.0 564.5,650.0 568.5,650.0 572.5,650.0 576.5,650.0 581.5,650.0 585.5,650.0 589.5,650.0 593.5,650.0 597.5,650.0 601.5,650.0 660.5,619.9 664.5,609.1 668.5,600.5 672.5,597.0 676.5,596.2 680.5,595.7 685.5,593.2 689.5,580.4 693.5,570.8 697.5,569.4 701.5,568.0 705.5,566.6 710.5,565.4 714.5,564.8 718.5,564.7 722.5,564.7 726.5,564.7 730.5,564.7 735.5,564.7 739.5,564.7 743.5,564.7 747.5,564.4 751.5,563.8 755.5,563.3 760.5,562.7 764.5,561.6 768.5,550.2 772.5,542.5 776.5,535.1 780.5,529.6 784.5,528.4 789.5,528.1 793.5,526.9 797.5,525.8 801.5,524.1 805.5,523.5 809.5,522.9 814.5,521.9 818.5,520.8 822.5,519.7 826.5,519.0 830.5,517.0 834.5,514.7 839.5,512.1 843.5,511.3 847.5,510.8 851.5,510.4 855.5,508.2 859.5,507.7 863.5,507.7 868.5,507.7 872.5,507.7 876.5,507.7 880.5,507.7 884.5,507.7 888.5,507.7 893.5,507.7 897.5,507.7 901.5,507.7 905.5,507.7 909.5,507.7 913.5,507.7 918.5,507.7 922.5,507.7 926.5,507.7 930.5,507.7 934.5,507.7 938.5,507.7 943.5,507.7 947.5,507.7 951.5,507.7 955.5,507.7 959.5,507.7 963.5,507.7 967.5,507.7 972.5,507.7 976.5,507.7 980.5,507.7 984.5,507.9 988.5,507.7 992.5,507.6 997.5,511.3 1001.5,517.3 1005.5,517.5 1009.5,520.4 1013.5,537.2 1017.5,537.2 1022.5,537.2 1026.5,537.2 1030.5,537.2 1034.5,537.2 1038.5,537.2 1042.5,537.2 1047.5,537.2 1051.5,536.2 1055.5,535.7 1059.5,535.4 1063.5,534.1 1067.5,527.0 1071.5,527.0 1076.5,527.0 1080.5,527.0 1084.5,527.0 1088.5,526.9 1092.5,523.9 1096.5,523.7 1101.5,523.7 1105.5,523.7 1109.5,523.7 1113.5,523.7 1117.5,523.7 1121.5,523.7 1126.5,523.7 1130.5,523.5 1134.5,519.4 1138.5,516.3 1142.5,515.4 1146.5,515.3 1151.5,515.0 1155.5,512.3 1159.5,510.5 1163.5,500.5 1167.5,490.4 1171.5,490.1 1175.5,489.2 1180.5,486.3 1184.5,485.3 1188.5,482.9 1192.5,479.9 1196.5,479.1 1200.5,477.6 1205.5,475.6 1209.5,469.4 1213.5,463.7 1217.5,462.5 1221.5,448.9 1225.5,441.5 1230.5,439.4 1234.5,435.0 1238.5,424.5 1242.5,415.4 1246.5,415.1 1250.5,414.8 1255.5,408.7 1259.5,404.1 1263.5,403.7 1267.5,402.5 1271.5,402.3 1275.5,401.5 1279.5,396.7 1284.5,394.6" fill="none" stroke="#ef9a9a" stroke-width="1"/><polyline points="11.5,716.7 15.5,717.0 19.5,716.0 23.5,714.5 27.5,712.9 32.5,711.5 36.5,712.1 40.5,711.7 44.5,710.1 48.5,707.3 52.5,704.3 57.5,700.5 61.5,698.7 65.5,699.6 69.5,691.6 73.5,696.1 77.5,695.6 81.5,691.8 86.5,687.3 90.5,684.3 94.5,677.9 98.5,682.4 102.5,686.9 106.5,688.4 111.5,688.0 115.5,683.8 119.5,681.0 123.5,681.8 127.5,676.7 131.5,672.1 136.5,667.4 140.5,666.2 144.5,663.2 148.5,660.6 152.5,681.0 156.5,673.7 161.5,664.5 165.5,658.3 169.5,657.2 173.5,655.5 177.5,653.1 181.5,659.9 185.5,660.8 190.5,657.0 194.5,666.8 198.5,676.5 202.5,680.6 206.5,676.6 210.5,671.7 215.5,676.2 219.5,674.6 223.5,672.2 227.5,664.6 231.5,661.8 235.5,654.4 240.5,662.0 244.5,662.4 248.5,664.2 252.5,661.4 256.5,657.1 260.5,660.0 265.5,658.1 269.5,655.9 273.5,655.5 277.5,655.0 281.5,652.9 285.5,650.2 289.5,647.6 294.5,637.8 298.5,630.6 302.5,632.9 306.5,625.5 310.5,628.3 314.5,631.0 319.5,640.4 323.5,639.9 327.5,633.3 331.5,634.4 335.5,633.4 339.5,629.6 344.5,639.0 348.5,634.7 352.5,634.9 356.5,637.1 360.5,640.4 364.5,639.4 368.5,640.5 373.5,635.9 377.5,630.5 381.5,624.7 385.5,625.8 389.5,624.2 393.5,625.9 398.5,626.5 402.5,626.2 406.5,622.5 410.5,613.5 414.5,606.7 418.5,605.0 423.5,599.7 427.5,601.1 431.5,604.2 435.5,594.7 439.5,590.7 443.5,591.4 448.5,588.3 452.5,578.8 456.5,544.9 460.5,557.9 464.5,543.2 468.5,545.9 472.5,543.4 477.5,526.5 481.5,513.7 485.5,499.5 489.5,511.7 493.5,513.8 497.5,523.2 502.5,523.2 506.5,543.1 510.5,548.3 514.5,551.8 518.5,546.4 522.5,554.7 527.5,537.1 531.5,529.9 535.5,530.6 539.5,535.6 543.5,534.1 547.5,533.8 552.5,513.9 556.5,494.7 560.5,470.6 564.5,466.2 568.5,450.4 572.5,419.1 576.5,433.7 581.5,466.6 585.5,449.2 589.5,447.2 593.5,496.5 597.5,509.7 601.5,524.7 606.5,560.6 610.5,550.8 614.5,550.2 618.5,549.1 622.5,570.3 626.5,584.5 631.5,573.2 635.5,589.2 639.5,585.5 643.5,576.6 647.5,566.0 651.5,570.0 656.5,567.5 660.5,563.8 664.5,547.8 668.5,537.1 672.5,546.2 676.5,553.8 680.5,553.3 685.5,545.1 689.5,555.3 693.5,551.9 697.5,553.2 701.5,558.0 705.5,563.3 710.5,569.5 714.5,565.5 718.5,554.8 722.5,550.9 726.5,550.4 730.5,553.7 735.5,557.4 739.5,557.0 743.5,557.2 747.5,558.5 751.5,558.8 755.5,554.2 760.5,553.0 764.5,553.0 768.5,550.1 772.5,548.4 776.5,552.1 780.5,546.8 784.5,541.5 789.5,512.2 793.5,495.0 797.5,494.4 801.5,500.0 805.5,517.7 809.5,520.0 814.5,517.8 818.5,518.8 822.5,506.8 826.5,506.3 830.5,509.5 834.5,507.0 839.5,512.8 843.5,517.3 847.5,510.9 851.5,504.7 855.5,507.6 859.5,510.2 863.5,511.2 868.5,503.5 872.5,502.9 876.5,499.0 880.5,481.5 884.5,479.6 888.5,473.7 893.5,483.2 897.5,486.0 901.5,488.1 905.5,486.1 909.5,486.1 913.5,488.6 918.5,482.1 922.5,489.5 926.5,486.9 930.5,484.6 934.5,483.9 938.5,479.3 943.5,471.6 947.5,467.4 951.5,468.2 955.5,451.3 959.5,434.0 963.5,420.3 967.5,433.4 972.5,427.0 976.5,418.5 980.5,410.8 984.5,416.7 988.5,419.4 992.5,426.4 997.5,429.4 1001.5,418.8 1005.5,409.0 1009.5,402.3 1013.5,372.6 1017.5,369.6 1022.5,373.4 1026.5,354.0 1030.5,334.6 1034.5,324.6 1038.5,343.9 1042.5,324.2 1047.5,310.3 1051.5,301.1 1055.5,306.7 1059.5,312.3 1063.5,314.8 1067.5,298.9 1071.5,283.1 1076.5,291.4" fill="none" stroke="#43a047" stroke-width="1" stroke-linejoin="round"/><polyline points="11.5,725.9 15.5,725.2 19.5,724.4 23.5,723.4 27.5,723.0 32.5,723.0 36.5,723.0 40.5,722.8 44.5,722.7 48.5,722.6 52.5,722.4 57.5,722.4 61.5,722.4 65.5,722.4 69.5,722.4 73.5,722.3 77.5,722.1 81.5,721.9 86.5,721.7 90.5,721.5 94.5,721.3 98.5,721.0 102.5,720.6 106.5,720.2 111.5,719.3 115.5,718.4 119.5,718.0 123.5,718.0 127.5,718.0 131.5,718.0 136.5,718.0 140.5,718.0 144.5,718.0 148.5,717.2 152.5,716.4 156.5,715.0 161.5,712.7 165.5,710.3 169.5,707.4 173.5,704.5 177.5,703.0 181.5,703.0 185.5,703.0 190.5,702.6 194.5,700.8 198.5,697.4 202.5,697.0 206.5,697.0 210.5,696.9 215.5,696.8 219.5,696.7 223.5,696.6 227.5,696.5 231.5,695.7 235.5,693.0 240.5,689.8 244.5,688.5 248.5,688.1 252.5,683.4 256.5,682.0 260.5,680.9 265.5,679.1 269.5,677.6 273.5,676.0 277.5,674.3 281.5,673.0 285.5,671.9 289.5,670.8 294.5,669.8 298.5,669.1 302.5,669.0 306.5,668.8 310.5,668.6 314.5,668.4 319.5,668.0 323.5,667.7 327.5,666.9 331.5,666.4 335.5,666.4 339.5,666.3 344.5,666.3 348.5,666.2 352.5,666.2 356.5,666.2 360.5,666.2 364.5,666.2 368.5,666.3 373.5,666.3 377.5,666.4 381.5,666.4 385.5,666.4 389.5,665.4 393.5,662.8 398.5,658.7 402.5,656.9 406.5,655.9 410.5,654.0 414.5,650.9 418.5,647.7 423.5,646.4 427.5,645.8 431.5,645.0 435.5,643.6 439.5,642.5 443.5,642.5 448.5,642.5 452.5,641.8 456.5,640.9 460.5,640.0 464.5,639.0 468.5,638.4 472.5,637.9 477.5,637.3 481.5,636.8 485.5,635.9 489.5,634.4 493.5,633.6 497.5,633.0 502.5,632.3 506.5,632.2 510.5,632.1 514.5,631.2 518.5,626.2 522.5,624.0 527.5,623.0 531.5,622.1 535.5,621.2 539.5,620.0 543.5,617.8 547.5,616.0 552.5,614.4 556.5,607.9 560.5,591.2 564.5,586.9 568.5,586.5 572.5,586.3 576.5,586.2 581.5,583.2 585.5,571.2 589.5,555.5 593.5,555.4 597.5,555.5 601.5,555.5 606.5,555.4 610.5,554.0 614.5,552.1 618.5,549.4 622.5,546.6 626.5,544.9 631.5,544.6 635.5,544.4 639.5,543.3 643.5,539.8 647.5,538.1 651.5,536.9 656.5,534.2 660.5,524.8 664.5,511.0 668.5,510.1 672.5,501.8 676.5,487.3 680.5,487.3 685.5,487.3 689.5,487.3 693.5,487.3 697.5,487.3 701.5,487.3 705.5,487.3 710.5,489.4 714.5,489.4 718.5,489.4 722.5,489.8 726.5,499.0 730.5,506.9 735.5,507.8 739.5,507.9 743.5,507.9 747.5,507.9 751.5,507.9 755.5,507.9 760.5,508.0 764.5,508.0 768.5,508.0 772.5,508.0 776.5,508.0 780.5,508.1 784.5,512.5 789.5,517.3 793.5,517.3 797.5,518.3 801.5,536.7 805.5,538.7 809.5,550.9 814.5,562.3 818.5,562.6 822.5,562.9 826.5,563.2 830.5,563.5 834.5,563.5 839.5,562.8 843.5,562.3 847.5,561.8 851.5,558.5 855.5,553.2 859.5,553.2 863.5,553.2 868.5,553.2 872.5,553.2 876.5,553.2 880.5,553.2 884.5,553.2 888.5,553.2 893.5,540.5 897.5,529.5 901.5,527.6 905.5,527.0 909.5,527.0 913.5,527.0 918.5,525.6 922.5,521.0 926.5,518.3 930.5,518.3 934.5,518.3 938.5,518.3 943.5,518.3 947.5,518.3 951.5,518.3 955.5,518.3 959.5,518.3 963.5,518.3 967.5,515.6 972.5,515.0 976.5,515.0 980.5,515.0 984.5,513.7 988.5,509.8 992.5,507.6 997.5,500.8 1001.5,495.8 1005.5,495.7 1009.5,495.5 1013.5,495.3 1017.5,495.2 1022.5,494.7 1026.5,494.4 1030.5,494.1 1034.5,494.0 1038.5,493.8 1042.5,493.7 1047.5,493.0 1051.5,490.5 1055.5,488.0 1059.5,482.2 1063.5,467.3 1067.5,466.6 1071.5,466.0 1076.5,463.2 1080.5,460.9 1084.5,454.9 1088.5,448.7 1092.5,448.7 1096.5,448.7 1101.5,448.7 1105.5,448.7 1109.5,448.7 1113.5,446.9 1117.5,431.3 1121.5,425.6 1126.5,423.5 1130.5,422.7 1134.5,410.3 1138.5,399.8 1142.5,397.9 1146.5,396.1 1151.5,392.3 1155.5,380.4 1159.5,380.1 1163.5,372.3 1167.5,364.4 1171.5,363.1 1175.5,358.3 1180.5,356.4" fill="none" stroke="#801922" stroke-width="1.1" stroke-linejoin="round"/><polyline points="11.5,729.6 15.5,727.2 19.5,725.3 23.5,723.5 27.5,722.2 32.5,721.4 36.5,721.0 40.5,720.6 44.5,719.6 48.5,718.4 52.5,717.9 57.5,717.6 61.5,717.6 65.5,718.2 69.5,718.8 73.5,719.6 77.5,720.4 81.5,721.1 86.5,721.7 90.5,721.5 94.5,721.3 98.5,720.9 102.5,720.1 106.5,719.2 111.5,717.9 115.5,717.2 119.5,716.7 123.5,716.3 127.5,715.8 131.5,715.3 136.5,714.6 140.5,713.8 144.5,713.0 148.5,711.9 152.5,710.3 156.5,708.7 161.5,706.3 165.5,703.6 169.5,701.5 173.5,699.7 177.5,699.2 181.5,698.8 185.5,697.9 190.5,696.3 194.5,693.3 198.5,690.6 202.5,687.6 206.5,687.1 210.5,686.5 215.5,685.6 219.5,684.8 223.5,684.3 227.5,683.8 231.5,682.2 235.5,679.9 240.5,677.5 244.5,676.8 248.5,676.1 252.5,671.6 256.5,669.3 260.5,668.9 265.5,668.4 269.5,668.1 273.5,667.5 277.5,666.8 281.5,666.4 285.5,666.3 289.5,666.2 294.5,662.4 298.5,659.7 302.5,662.8 306.5,665.9 310.5,666.3 314.5,666.4 319.5,667.4 323.5,668.4 327.5,670.0 331.5,671.6 335.5,670.9 339.5,669.8 344.5,668.4 348.5,667.3 352.5,666.3 356.5,665.1 360.5,663.8 364.5,662.7 368.5,661.6 373.5,661.3 377.5,661.5 381.5,661.6 385.5,659.9 389.5,658.0 393.5,654.2 398.5,648.2 402.5,645.7 406.5,643.5 410.5,641.4 414.5,638.5 418.5,635.7 423.5,633.9 427.5,632.9 431.5,632.3 435.5,632.3 439.5,632.3 443.5,632.3 448.5,632.7 452.5,636.0 456.5,636.9 460.5,636.5 464.5,636.1 468.5,635.8 472.5,635.5 477.5,635.1 481.5,634.8 485.5,634.3 489.5,633.4 493.5,632.5 497.5,631.9 502.5,631.6 506.5,631.3 510.5,628.9 514.5,622.4 518.5,619.3 522.5,615.6 527.5,615.1 531.5,614.8 535.5,614.0 539.5,610.7 543.5,607.4 547.5,604.5 552.5,599.5 556.5,589.9 560.5,573.2 564.5,568.9 568.5,566.4 572.5,564.1 576.5,563.0 581.5,561.1 585.5,548.0 589.5,530.9 593.5,522.1 597.5,520.9 601.5,519.2 606.5,516.2 610.5,515.0 614.5,516.6 618.5,518.3 622.5,520.3 626.5,530.7 631.5,533.9 635.5,537.5 639.5,538.7 643.5,539.7 647.5,539.7 651.5,539.7 656.5,535.1 660.5,523.5 664.5,499.0 668.5,496.4 672.5,487.8 676.5,477.2 680.5,477.2 685.5,476.3 689.5,470.9 693.5,461.7 697.5,455.7 701.5,466.9 705.5,478.2 710.5,489.6 714.5,494.2 718.5,498.2 722.5,499.7 726.5,506.0 730.5,525.0 735.5,538.7 739.5,550.7 743.5,562.2 747.5,562.6 751.5,563.6 755.5,567.6 760.5,574.5 764.5,581.0 768.5,568.3 772.5,563.7 776.5,561.8 780.5,558.1 784.5,553.3 789.5,552.1 793.5,551.5 797.5,550.2 801.5,545.0 805.5,544.9 809.5,548.3 814.5,553.2 818.5,553.2 822.5,553.2 826.5,553.7 830.5,554.7 834.5,555.4 839.5,555.4 843.5,555.4 847.5,554.9 851.5,551.1 855.5,547.9 859.5,551.0 863.5,554.0 868.5,555.1 872.5,554.6 876.5,551.9 880.5,551.7 884.5,551.7 888.5,550.3 893.5,538.6 897.5,518.2 901.5,515.4 905.5,514.8 909.5,514.7 913.5,513.7 918.5,511.4 922.5,509.2 926.5,504.6 930.5,499.6 934.5,499.2 938.5,504.8 943.5,508.8 947.5,508.7 951.5,508.3 955.5,507.9 959.5,507.5 963.5,508.0 967.5,508.9 972.5,509.4 976.5,509.4 980.5,508.6 984.5,498.0 988.5,491.6 992.5,491.2 997.5,491.7 1001.5,491.7 1005.5,488.3 1009.5,485.1 1013.5,483.1 1017.5,481.1 1022.5,481.2 1026.5,481.4 1030.5,482.1 1034.5,485.4 1038.5,485.4 1042.5,485.4 1047.5,480.1 1051.5,476.3 1055.5,475.5 1059.5,466.8 1063.5,453.7 1067.5,452.2 1071.5,451.3 1076.5,449.4 1080.5,446.1 1084.5,439.3 1088.5,437.0 1092.5,430.2 1096.5,422.4 1101.5,422.0 1105.5,421.5 1109.5,420.0 1113.5,416.7 1117.5,399.9 1121.5,395.8 1126.5,394.6 1130.5,393.4 1134.5,378.8 1138.5,366.2 1142.5,362.2 1146.5,362.2 1151.5,347.1 1155.5,335.6 1159.5,334.9 1163.5,328.3 1167.5,321.4 1171.5,320.2 1175.5,314.2 1180.5,307.7" fill="none" stroke="#2196f3" stroke-width="1.1" stroke-linejoin="round"/><g shape-rendering="crispEdges"><rect x="11" y="726" width="1" height="1" fill="#f23645"/><rect x="10" y="726" width="3" height="1" fill="#f23645"/><rect x="15" y="721" width="1" height="6" fill="#089981"/><rect x="14" y="721" width="3" height="6" fill="#089981"/><rect x="19" y="720" width="1" height="4" fill="#f23645"/><rect x="18" y="720" width="3" height="4" fill="#f23645"/><rect x="23" y="714" width="1" height="5" fill="#f23645"/><rect x="22" y="715" width="3" height="4" fill="#f23645"/><rect x="27" y="711" width="1" height="4" fill="#089981"/><rect x="26" y="711" width="3" height="4" fill="#089981"/><rect x="32" y="715" width="1" height="5" fill="#089981"/><rect x="31" y="716" width="3" height="4" fill="#089981"/><rect x="36" y="714" width="1" height="2" fill="#089981"/><rect x="35" y="715" width="3" height="1" fill="#089981"/><rect x="40" y="713" width="1" height="1" fill="#089981"/><rect x="39" y="713" width="3" height="1" fill="#089981"/><rect x="44" y="715" width="1" height="6" fill="#f23645"/><rect x="43" y="715" width="3" height="6" fill="#f23645"/><rect x="48" y="722" width="1" height="3" fill="#f23645"/><rect x="47" y="722" width="3" height="3" fill="#f23645"/><rect x="52" y="720" width="1" height="3" fill="#089981"/><rect x="51" y="720" width="3" height="3" fill="#089981"/><rect x="57" y="721" width="1" height="2" fill="#f23645"/><rect x="56" y="722" width="3" height="1" fill="#f23645"/><rect x="61" y="721" width="1" height="4" fill="#089981"/><rect x="60" y="722" width="3" height="1" fill="#089981"/><rect x="65" y="722" width="1" height="1" fill="#f23645"/><rect x="64" y="722" width="3" height="1" fill="#f23645"/><rect x="69" y="723" width="1" height="3" fill="#089981"/><rect x="68" y="724" width="3" height="2" fill="#089981"/><rect x="73" y="720" width="1" height="2" fill="#f23645"/><rect x="72" y="721" width="3" height="1" fill="#f23645"/><rect x="77" y="718" width="1" height="2" fill="#f23645"/><rect x="76" y="719" width="3" height="1" fill="#f23645"/><rect x="81" y="719" width="1" height="2" fill="#f23645"/><rect x="80" y="720" width="3" height="1" fill="#f23645"/><rect x="86" y="718" width="1" height="2" fill="#089981"/><rect x="85" y="719" width="3" height="1" fill="#089981"/><rect x="90" y="715" width="1" height="1" fill="#f23645"/><rect x="89" y="715" width="3" height="1" fill="#f23645"/><rect x="94" y="717" width="1" height="3" fill="#f23645"/><rect x="93" y="717" width="3" height="3" fill="#f23645"/><rect x="98" y="717" width="1" height="1" fill="#f23645"/><rect x="97" y="717" width="3" height="1" fill="#f23645"/><rect x="102" y="716" width="1" height="1" fill="#089981"/><rect x="101" y="716" width="3" height="1" fill="#089981"/><rect x="106" y="715" width="1" height="1" fill="#089981"/><rect x="105" y="715" width="3" height="1" fill="#089981"/><rect x="111" y="714" width="1" height="1" fill="#089981"/><rect x="110" y="714" width="3" height="1" fill="#089981"/><rect x="115" y="715" width="1" height="3" fill="#f23645"/><rect x="114" y="715" width="3" height="3" fill="#f23645"/><rect x="119" y="716" width="1" height="2" fill="#f23645"/><rect x="118" y="716" width="3" height="2" fill="#f23645"/><rect x="123" y="717" width="1" height="2" fill="#089981"/><rect x="122" y="717" width="3" height="1" fill="#089981"/><rect x="127" y="716" width="1" height="1" fill="#f23645"/><rect x="126" y="716" width="3" height="1" fill="#f23645"/><rect x="131" y="715" width="1" height="1" fill="#089981"/><rect x="130" y="715" width="3" height="1" fill="#089981"/><rect x="136" y="712" width="1" height="1" fill="#089981"/><rect x="135" y="712" width="3" height="1" fill="#089981"/><rect x="140" y="713" width="1" height="2" fill="#f23645"/><rect x="139" y="713" width="3" height="2" fill="#f23645"/><rect x="144" y="712" width="1" height="2" fill="#089981"/><rect x="143" y="712" width="3" height="1" fill="#089981"/><rect x="148" y="711" width="1" height="1" fill="#089981"/><rect x="147" y="711" width="3" height="1" fill="#089981"/><rect x="152" y="708" width="1" height="3" fill="#089981"/><rect x="151" y="709" width="3" height="2" fill="#089981"/><rect x="156" y="705" width="1" height="1" fill="#089981"/><rect x="155" y="705" width="3" height="1" fill="#089981"/><rect x="161" y="701" width="1" height="3" fill="#f23645"/><rect x="160" y="701" width="3" height="1" fill="#f23645"/><rect x="165" y="694" width="1" height="5" fill="#089981"/><rect x="164" y="697" width="3" height="2" fill="#089981"/><rect x="169" y="697" width="1" height="5" fill="#f23645"/><rect x="168" y="697" width="3" height="5" fill="#f23645"/><rect x="173" y="686" width="1" height="5" fill="#f23645"/><rect x="172" y="689" width="3" height="2" fill="#f23645"/><rect x="177" y="693" width="1" height="4" fill="#f23645"/><rect x="176" y="693" width="3" height="4" fill="#f23645"/><rect x="181" y="694" width="1" height="4" fill="#089981"/><rect x="180" y="695" width="3" height="1" fill="#089981"/><rect x="185" y="692" width="1" height="1" fill="#089981"/><rect x="184" y="692" width="3" height="1" fill="#089981"/><rect x="190" y="688" width="1" height="4" fill="#089981"/><rect x="189" y="688" width="3" height="4" fill="#089981"/><rect x="194" y="685" width="1" height="7" fill="#089981"/><rect x="193" y="686" width="3" height="4" fill="#089981"/><rect x="198" y="677" width="1" height="5" fill="#089981"/><rect x="197" y="677" width="3" height="5" fill="#089981"/><rect x="202" y="679" width="1" height="5" fill="#f23645"/><rect x="201" y="679" width="3" height="3" fill="#f23645"/><rect x="206" y="684" width="1" height="3" fill="#089981"/><rect x="205" y="686" width="3" height="1" fill="#089981"/><rect x="210" y="687" width="1" height="3" fill="#f23645"/><rect x="209" y="687" width="3" height="3" fill="#f23645"/><rect x="215" y="688" width="1" height="1" fill="#f23645"/><rect x="214" y="688" width="3" height="1" fill="#f23645"/><rect x="219" y="685" width="1" height="4" fill="#089981"/><rect x="218" y="685" width="3" height="4" fill="#089981"/><rect x="223" y="680" width="1" height="2" fill="#089981"/><rect x="222" y="681" width="3" height="1" fill="#089981"/><rect x="227" y="683" width="1" height="1" fill="#f23645"/><rect x="226" y="683" width="3" height="1" fill="#f23645"/><rect x="231" y="677" width="1" height="2" fill="#f23645"/><rect x="230" y="678" width="3" height="1" fill="#f23645"/><rect x="235" y="671" width="1" height="2" fill="#089981"/><rect x="234" y="671" width="3" height="2" fill="#089981"/><rect x="240" y="665" width="1" height="4" fill="#f23645"/><rect x="239" y="665" width="3" height="4" fill="#f23645"/><rect x="244" y="664" width="1" height="4" fill="#f23645"/><rect x="243" y="666" width="3" height="1" fill="#f23645"/><rect x="248" y="663" width="1" height="4" fill="#f23645"/><rect x="247" y="664" width="3" height="2" fill="#f23645"/><rect x="252" y="655" width="1" height="5" fill="#089981"/><rect x="251" y="657" width="3" height="3" fill="#089981"/><rect x="256" y="672" width="1" height="12" fill="#f23645"/><rect x="255" y="680" width="3" height="4" fill="#f23645"/><rect x="260" y="673" width="1" height="4" fill="#089981"/><rect x="259" y="673" width="3" height="4" fill="#089981"/><rect x="265" y="665" width="1" height="5" fill="#089981"/><rect x="264" y="666" width="3" height="4" fill="#089981"/><rect x="269" y="656" width="1" height="2" fill="#f23645"/><rect x="268" y="657" width="3" height="1" fill="#f23645"/><rect x="273" y="651" width="1" height="9" fill="#f23645"/><rect x="272" y="655" width="3" height="4" fill="#f23645"/><rect x="277" y="657" width="1" height="6" fill="#089981"/><rect x="276" y="657" width="3" height="6" fill="#089981"/><rect x="281" y="649" width="1" height="3" fill="#f23645"/><rect x="280" y="651" width="3" height="1" fill="#f23645"/><rect x="285" y="657" width="1" height="3" fill="#f23645"/><rect x="284" y="657" width="3" height="3" fill="#f23645"/><rect x="289" y="661" width="1" height="3" fill="#089981"/><rect x="288" y="661" width="3" height="1" fill="#089981"/><rect x="294" y="652" width="1" height="5" fill="#f23645"/><rect x="293" y="653" width="3" height="3" fill="#f23645"/><rect x="298" y="661" width="1" height="5" fill="#f23645"/><rect x="297" y="661" width="3" height="5" fill="#f23645"/><rect x="302" y="669" width="1" height="6" fill="#f23645"/><rect x="301" y="669" width="3" height="6" fill="#f23645"/><rect x="306" y="681" width="1" height="3" fill="#f23645"/><rect x="305" y="683" width="3" height="1" fill="#f23645"/><rect x="310" y="677" width="1" height="7" fill="#089981"/><rect x="309" y="677" width="3" height="7" fill="#089981"/><rect x="314" y="672" width="1" height="1" fill="#f23645"/><rect x="313" y="672" width="3" height="1" fill="#f23645"/><rect x="319" y="675" width="1" height="2" fill="#f23645"/><rect x="318" y="675" width="3" height="2" fill="#f23645"/><rect x="323" y="674" width="1" height="2" fill="#f23645"/><rect x="322" y="675" width="3" height="1" fill="#f23645"/><rect x="327" y="672" width="1" height="3" fill="#089981"/><rect x="326" y="673" width="3" height="2" fill="#089981"/><rect x="331" y="665" width="1" height="7" fill="#089981"/><rect x="330" y="665" width="3" height="7" fill="#089981"/><rect x="335" y="658" width="1" height="7" fill="#f23645"/><rect x="334" y="659" width="3" height="6" fill="#f23645"/><rect x="339" y="653" width="1" height="3" fill="#089981"/><rect x="338" y="654" width="3" height="1" fill="#089981"/><rect x="344" y="654" width="1" height="9" fill="#f23645"/><rect x="343" y="654" width="3" height="9" fill="#f23645"/><rect x="348" y="662" width="1" height="6" fill="#089981"/><rect x="347" y="662" width="3" height="6" fill="#089981"/><rect x="352" y="662" width="1" height="6" fill="#f23645"/><rect x="351" y="663" width="3" height="5" fill="#f23645"/><rect x="356" y="661" width="1" height="5" fill="#f23645"/><rect x="355" y="662" width="3" height="4" fill="#f23645"/><rect x="360" y="656" width="1" height="3" fill="#089981"/><rect x="359" y="657" width="3" height="1" fill="#089981"/><rect x="364" y="659" width="1" height="2" fill="#f23645"/><rect x="363" y="660" width="3" height="1" fill="#f23645"/><rect x="368" y="658" width="1" height="2" fill="#089981"/><rect x="367" y="659" width="3" height="1" fill="#089981"/><rect x="373" y="655" width="1" height="2" fill="#f23645"/><rect x="372" y="656" width="3" height="1" fill="#f23645"/><rect x="377" y="655" width="1" height="1" fill="#f23645"/><rect x="376" y="655" width="3" height="1" fill="#f23645"/><rect x="381" y="655" width="1" height="3" fill="#089981"/><rect x="380" y="656" width="3" height="2" fill="#089981"/><rect x="385" y="653" width="1" height="2" fill="#089981"/><rect x="384" y="654" width="3" height="1" fill="#089981"/><rect x="389" y="651" width="1" height="3" fill="#089981"/><rect x="388" y="651" width="3" height="3" fill="#089981"/><rect x="393" y="646" width="1" height="5" fill="#089981"/><rect x="392" y="647" width="3" height="4" fill="#089981"/><rect x="398" y="638" width="1" height="6" fill="#089981"/><rect x="397" y="638" width="3" height="6" fill="#089981"/><rect x="402" y="630" width="1" height="6" fill="#089981"/><rect x="401" y="630" width="3" height="6" fill="#089981"/><rect x="406" y="628" width="1" height="8" fill="#f23645"/><rect x="405" y="628" width="3" height="6" fill="#f23645"/><rect x="410" y="625" width="1" height="7" fill="#089981"/><rect x="409" y="625" width="3" height="7" fill="#089981"/><rect x="414" y="617" width="1" height="15" fill="#f23645"/><rect x="413" y="618" width="3" height="14" fill="#f23645"/><rect x="418" y="625" width="1" height="8" fill="#f23645"/><rect x="417" y="626" width="3" height="7" fill="#f23645"/><rect x="423" y="635" width="1" height="7" fill="#f23645"/><rect x="422" y="635" width="3" height="7" fill="#f23645"/><rect x="427" y="639" width="1" height="9" fill="#089981"/><rect x="426" y="639" width="3" height="6" fill="#089981"/><rect x="431" y="633" width="1" height="2" fill="#089981"/><rect x="430" y="633" width="3" height="2" fill="#089981"/><rect x="435" y="629" width="1" height="6" fill="#f23645"/><rect x="434" y="629" width="3" height="6" fill="#f23645"/><rect x="439" y="635" width="1" height="4" fill="#089981"/><rect x="438" y="635" width="3" height="1" fill="#089981"/><rect x="443" y="628" width="1" height="3" fill="#089981"/><rect x="442" y="629" width="3" height="1" fill="#089981"/><rect x="448" y="626" width="1" height="13" fill="#f23645"/><rect x="447" y="627" width="3" height="12" fill="#f23645"/><rect x="452" y="633" width="1" height="11" fill="#089981"/><rect x="451" y="634" width="3" height="10" fill="#089981"/><rect x="456" y="633" width="1" height="2" fill="#f23645"/><rect x="455" y="634" width="3" height="1" fill="#f23645"/><rect x="460" y="635" width="1" height="1" fill="#f23645"/><rect x="459" y="635" width="3" height="1" fill="#f23645"/><rect x="464" y="638" width="1" height="4" fill="#f23645"/><rect x="463" y="638" width="3" height="4" fill="#f23645"/><rect x="468" y="639" width="1" height="2" fill="#089981"/><rect x="467" y="639" width="3" height="1" fill="#089981"/><rect x="472" y="641" width="1" height="1" fill="#089981"/><rect x="471" y="641" width="3" height="1" fill="#089981"/><rect x="477" y="635" width="1" height="4" fill="#089981"/><rect x="476" y="635" width="3" height="4" fill="#089981"/><rect x="481" y="632" width="1" height="4" fill="#089981"/><rect x="480" y="632" width="3" height="4" fill="#089981"/><rect x="485" y="623" width="1" height="4" fill="#089981"/><rect x="484" y="624" width="3" height="3" fill="#089981"/><rect x="489" y="625" width="1" height="5" fill="#f23645"/><rect x="488" y="626" width="3" height="1" fill="#f23645"/><rect x="493" y="622" width="1" height="3" fill="#089981"/><rect x="492" y="624" width="3" height="1" fill="#089981"/><rect x="497" y="627" width="1" height="1" fill="#089981"/><rect x="496" y="627" width="3" height="1" fill="#089981"/><rect x="502" y="626" width="1" height="3" fill="#089981"/><rect x="501" y="626" width="3" height="3" fill="#089981"/><rect x="506" y="624" width="1" height="3" fill="#f23645"/><rect x="505" y="624" width="3" height="3" fill="#f23645"/><rect x="510" y="623" width="1" height="2" fill="#f23645"/><rect x="509" y="624" width="3" height="1" fill="#f23645"/><rect x="514" y="617" width="1" height="3" fill="#089981"/><rect x="513" y="617" width="3" height="3" fill="#089981"/><rect x="518" y="608" width="1" height="5" fill="#089981"/><rect x="517" y="608" width="3" height="5" fill="#089981"/><rect x="522" y="600" width="1" height="8" fill="#f23645"/><rect x="521" y="600" width="3" height="6" fill="#f23645"/><rect x="527" y="601" width="1" height="3" fill="#089981"/><rect x="526" y="601" width="3" height="1" fill="#089981"/><rect x="531" y="601" width="1" height="5" fill="#089981"/><rect x="530" y="602" width="3" height="1" fill="#089981"/><rect x="535" y="602" width="1" height="5" fill="#f23645"/><rect x="534" y="602" width="3" height="5" fill="#f23645"/><rect x="539" y="596" width="1" height="4" fill="#089981"/><rect x="538" y="596" width="3" height="4" fill="#089981"/><rect x="543" y="591" width="1" height="5" fill="#089981"/><rect x="542" y="591" width="3" height="5" fill="#089981"/><rect x="547" y="587" width="1" height="9" fill="#f23645"/><rect x="546" y="590" width="3" height="1" fill="#f23645"/><rect x="552" y="588" width="1" height="3" fill="#089981"/><rect x="551" y="590" width="3" height="1" fill="#089981"/><rect x="556" y="578" width="1" height="4" fill="#089981"/><rect x="555" y="579" width="3" height="3" fill="#089981"/><rect x="560" y="543" width="1" height="9" fill="#089981"/><rect x="559" y="543" width="3" height="1" fill="#089981"/><rect x="564" y="530" width="1" height="36" fill="#f23645"/><rect x="563" y="530" width="3" height="31" fill="#f23645"/><rect x="568" y="541" width="1" height="10" fill="#089981"/><rect x="567" y="542" width="3" height="9" fill="#089981"/><rect x="572" y="546" width="1" height="10" fill="#089981"/><rect x="571" y="546" width="3" height="5" fill="#089981"/><rect x="576" y="541" width="1" height="5" fill="#089981"/><rect x="575" y="543" width="3" height="3" fill="#089981"/><rect x="581" y="531" width="1" height="9" fill="#089981"/><rect x="580" y="531" width="3" height="9" fill="#089981"/><rect x="585" y="512" width="1" height="9" fill="#089981"/><rect x="584" y="516" width="3" height="3" fill="#089981"/><rect x="589" y="481" width="1" height="22" fill="#f23645"/><rect x="588" y="492" width="3" height="5" fill="#f23645"/><rect x="593" y="505" width="1" height="17" fill="#f23645"/><rect x="592" y="505" width="3" height="8" fill="#f23645"/><rect x="597" y="507" width="1" height="9" fill="#f23645"/><rect x="596" y="507" width="3" height="6" fill="#f23645"/><rect x="601" y="523" width="1" height="11" fill="#f23645"/><rect x="600" y="525" width="3" height="5" fill="#f23645"/><rect x="606" y="517" width="1" height="5" fill="#089981"/><rect x="605" y="519" width="3" height="1" fill="#089981"/><rect x="610" y="530" width="1" height="18" fill="#f23645"/><rect x="609" y="533" width="3" height="10" fill="#f23645"/><rect x="614" y="532" width="1" height="20" fill="#f23645"/><rect x="613" y="538" width="3" height="11" fill="#f23645"/><rect x="618" y="548" width="1" height="10" fill="#089981"/><rect x="617" y="551" width="3" height="1" fill="#089981"/><rect x="622" y="546" width="1" height="1" fill="#089981"/><rect x="621" y="546" width="3" height="1" fill="#089981"/><rect x="626" y="553" width="1" height="2" fill="#f23645"/><rect x="625" y="553" width="3" height="2" fill="#f23645"/><rect x="631" y="534" width="1" height="6" fill="#f23645"/><rect x="630" y="534" width="3" height="5" fill="#f23645"/><rect x="635" y="521" width="1" height="12" fill="#f23645"/><rect x="634" y="527" width="3" height="4" fill="#f23645"/><rect x="639" y="522" width="1" height="10" fill="#f23645"/><rect x="638" y="523" width="3" height="8" fill="#f23645"/><rect x="643" y="530" width="1" height="7" fill="#f23645"/><rect x="642" y="534" width="3" height="3" fill="#f23645"/><rect x="647" y="532" width="1" height="6" fill="#f23645"/><rect x="646" y="533" width="3" height="1" fill="#f23645"/><rect x="651" y="532" width="1" height="6" fill="#089981"/><rect x="650" y="535" width="3" height="1" fill="#089981"/><rect x="656" y="516" width="1" height="12" fill="#089981"/><rect x="655" y="518" width="3" height="10" fill="#089981"/><rect x="660" y="496" width="1" height="4" fill="#089981"/><rect x="659" y="496" width="3" height="4" fill="#089981"/><rect x="664" y="456" width="1" height="20" fill="#f23645"/><rect x="663" y="456" width="3" height="17" fill="#f23645"/><rect x="668" y="461" width="1" height="31" fill="#089981"/><rect x="667" y="467" width="3" height="17" fill="#089981"/><rect x="672" y="450" width="1" height="14" fill="#089981"/><rect x="671" y="450" width="3" height="14" fill="#089981"/><rect x="676" y="416" width="1" height="20" fill="#089981"/><rect x="675" y="416" width="3" height="11" fill="#089981"/><rect x="680" y="420" width="1" height="23" fill="#f23645"/><rect x="679" y="420" width="3" height="17" fill="#f23645"/><rect x="685" y="451" width="1" height="19" fill="#f23645"/><rect x="684" y="460" width="3" height="10" fill="#f23645"/><rect x="689" y="447" width="1" height="18" fill="#089981"/><rect x="688" y="448" width="3" height="17" fill="#089981"/><rect x="693" y="435" width="1" height="13" fill="#f23645"/><rect x="692" y="443" width="3" height="5" fill="#f23645"/><rect x="697" y="482" width="1" height="11" fill="#089981"/><rect x="696" y="492" width="3" height="1" fill="#089981"/><rect x="701" y="475" width="1" height="37" fill="#f23645"/><rect x="700" y="479" width="3" height="24" fill="#f23645"/><rect x="705" y="507" width="1" height="35" fill="#f23645"/><rect x="704" y="507" width="3" height="27" fill="#f23645"/><rect x="710" y="555" width="1" height="9" fill="#f23645"/><rect x="709" y="555" width="3" height="9" fill="#f23645"/><rect x="714" y="545" width="1" height="16" fill="#089981"/><rect x="713" y="550" width="3" height="11" fill="#089981"/><rect x="718" y="525" width="1" height="30" fill="#f23645"/><rect x="717" y="527" width="3" height="24" fill="#f23645"/><rect x="722" y="536" width="1" height="16" fill="#f23645"/><rect x="721" y="538" width="3" height="10" fill="#f23645"/><rect x="726" y="550" width="1" height="26" fill="#f23645"/><rect x="725" y="560" width="3" height="13" fill="#f23645"/><rect x="730" y="582" width="1" height="18" fill="#089981"/><rect x="729" y="586" width="3" height="1" fill="#089981"/><rect x="735" y="570" width="1" height="11" fill="#089981"/><rect x="734" y="571" width="3" height="4" fill="#089981"/><rect x="739" y="579" width="1" height="12" fill="#f23645"/><rect x="738" y="580" width="3" height="11" fill="#f23645"/><rect x="743" y="585" width="1" height="14" fill="#089981"/><rect x="742" y="588" width="3" height="11" fill="#089981"/><rect x="747" y="576" width="1" height="20" fill="#089981"/><rect x="746" y="581" width="3" height="11" fill="#089981"/><rect x="751" y="563" width="1" height="7" fill="#089981"/><rect x="750" y="565" width="3" height="1" fill="#089981"/><rect x="755" y="572" width="1" height="3" fill="#089981"/><rect x="754" y="572" width="3" height="1" fill="#089981"/><rect x="760" y="567" width="1" height="9" fill="#089981"/><rect x="759" y="569" width="3" height="7" fill="#089981"/><rect x="764" y="564" width="1" height="3" fill="#089981"/><rect x="763" y="566" width="3" height="1" fill="#089981"/><rect x="768" y="536" width="1" height="9" fill="#f23645"/><rect x="767" y="536" width="3" height="4" fill="#f23645"/><rect x="772" y="528" width="1" height="9" fill="#f23645"/><rect x="771" y="535" width="3" height="1" fill="#f23645"/><rect x="776" y="532" width="1" height="16" fill="#f23645"/><rect x="775" y="534" width="3" height="14" fill="#f23645"/><rect x="780" y="552" width="1" height="6" fill="#f23645"/><rect x="779" y="555" width="3" height="1" fill="#f23645"/><rect x="784" y="548" width="1" height="10" fill="#089981"/><rect x="783" y="554" width="3" height="4" fill="#089981"/><rect x="789" y="540" width="1" height="7" fill="#089981"/><rect x="788" y="543" width="3" height="4" fill="#089981"/><rect x="793" y="528" width="1" height="33" fill="#f23645"/><rect x="792" y="532" width="3" height="24" fill="#f23645"/><rect x="797" y="551" width="1" height="8" fill="#089981"/><rect x="796" y="551" width="3" height="8" fill="#089981"/><rect x="801" y="547" width="1" height="5" fill="#f23645"/><rect x="800" y="548" width="3" height="4" fill="#f23645"/><rect x="805" y="552" width="1" height="6" fill="#f23645"/><rect x="804" y="552" width="3" height="6" fill="#f23645"/><rect x="809" y="557" width="1" height="9" fill="#f23645"/><rect x="808" y="557" width="3" height="9" fill="#f23645"/><rect x="814" y="566" width="1" height="13" fill="#f23645"/><rect x="813" y="566" width="3" height="5" fill="#f23645"/><rect x="818" y="563" width="1" height="7" fill="#f23645"/><rect x="817" y="564" width="3" height="4" fill="#f23645"/><rect x="822" y="532" width="1" height="20" fill="#089981"/><rect x="821" y="546" width="3" height="5" fill="#089981"/><rect x="826" y="540" width="1" height="12" fill="#f23645"/><rect x="825" y="540" width="3" height="12" fill="#f23645"/><rect x="830" y="549" width="1" height="3" fill="#f23645"/><rect x="829" y="550" width="3" height="1" fill="#f23645"/><rect x="834" y="552" width="1" height="3" fill="#089981"/><rect x="833" y="553" width="3" height="1" fill="#089981"/><rect x="839" y="555" width="1" height="7" fill="#089981"/><rect x="838" y="557" width="3" height="1" fill="#089981"/><rect x="843" y="556" width="1" height="3" fill="#089981"/><rect x="842" y="557" width="3" height="1" fill="#089981"/><rect x="847" y="554" width="1" height="3" fill="#f23645"/><rect x="846" y="554" width="3" height="3" fill="#f23645"/><rect x="851" y="556" width="1" height="4" fill="#f23645"/><rect x="850" y="557" width="3" height="3" fill="#f23645"/><rect x="855" y="559" width="1" height="2" fill="#f23645"/><rect x="854" y="559" width="3" height="1" fill="#f23645"/><rect x="859" y="553" width="1" height="8" fill="#089981"/><rect x="858" y="553" width="3" height="8" fill="#089981"/><rect x="863" y="550" width="1" height="3" fill="#f23645"/><rect x="862" y="552" width="3" height="1" fill="#f23645"/><rect x="868" y="549" width="1" height="6" fill="#f23645"/><rect x="867" y="550" width="3" height="5" fill="#f23645"/><rect x="872" y="549" width="1" height="6" fill="#089981"/><rect x="871" y="550" width="3" height="5" fill="#089981"/><rect x="876" y="541" width="1" height="7" fill="#089981"/><rect x="875" y="547" width="3" height="1" fill="#089981"/><rect x="880" y="551" width="1" height="4" fill="#089981"/><rect x="879" y="553" width="3" height="1" fill="#089981"/><rect x="884" y="548" width="1" height="2" fill="#f23645"/><rect x="883" y="549" width="3" height="1" fill="#f23645"/><rect x="888" y="536" width="1" height="10" fill="#089981"/><rect x="887" y="540" width="3" height="3" fill="#089981"/><rect x="893" y="513" width="1" height="24" fill="#089981"/><rect x="892" y="515" width="3" height="22" fill="#089981"/><rect x="897" y="482" width="1" height="17" fill="#f23645"/><rect x="896" y="491" width="3" height="1" fill="#f23645"/><rect x="901" y="475" width="1" height="25" fill="#f23645"/><rect x="900" y="475" width="3" height="22" fill="#f23645"/><rect x="905" y="495" width="1" height="19" fill="#089981"/><rect x="904" y="499" width="3" height="15" fill="#089981"/><rect x="909" y="509" width="1" height="10" fill="#f23645"/><rect x="908" y="509" width="3" height="10" fill="#f23645"/><rect x="913" y="518" width="1" height="5" fill="#089981"/><rect x="912" y="521" width="3" height="1" fill="#089981"/><rect x="918" y="515" width="1" height="6" fill="#f23645"/><rect x="917" y="518" width="3" height="1" fill="#f23645"/><rect x="922" y="518" width="1" height="4" fill="#f23645"/><rect x="921" y="518" width="3" height="4" fill="#f23645"/><rect x="926" y="506" width="1" height="13" fill="#089981"/><rect x="925" y="506" width="3" height="13" fill="#089981"/><rect x="930" y="500" width="1" height="7" fill="#f23645"/><rect x="929" y="502" width="3" height="5" fill="#f23645"/><rect x="934" y="500" width="1" height="13" fill="#f23645"/><rect x="933" y="501" width="3" height="10" fill="#f23645"/><rect x="938" y="506" width="1" height="9" fill="#089981"/><rect x="937" y="507" width="3" height="7" fill="#089981"/><rect x="943" y="509" width="1" height="4" fill="#089981"/><rect x="942" y="511" width="3" height="1" fill="#089981"/><rect x="947" y="513" width="1" height="6" fill="#f23645"/><rect x="946" y="513" width="3" height="6" fill="#f23645"/><rect x="951" y="510" width="1" height="3" fill="#089981"/><rect x="950" y="510" width="3" height="3" fill="#089981"/><rect x="955" y="502" width="1" height="5" fill="#f23645"/><rect x="954" y="503" width="3" height="3" fill="#f23645"/><rect x="959" y="501" width="1" height="6" fill="#f23645"/><rect x="958" y="501" width="3" height="6" fill="#f23645"/><rect x="963" y="509" width="1" height="3" fill="#f23645"/><rect x="962" y="510" width="3" height="2" fill="#f23645"/><rect x="967" y="511" width="1" height="4" fill="#089981"/><rect x="966" y="511" width="3" height="4" fill="#089981"/><rect x="972" y="503" width="1" height="5" fill="#089981"/><rect x="971" y="503" width="3" height="5" fill="#089981"/><rect x="976" y="500" width="1" height="4" fill="#f23645"/><rect x="975" y="501" width="3" height="3" fill="#f23645"/><rect x="980" y="500" width="1" height="3" fill="#f23645"/><rect x="979" y="502" width="3" height="1" fill="#f23645"/><rect x="984" y="482" width="1" height="10" fill="#089981"/><rect x="983" y="482" width="3" height="10" fill="#089981"/><rect x="988" y="469" width="1" height="13" fill="#f23645"/><rect x="987" y="470" width="3" height="12" fill="#f23645"/><rect x="992" y="473" width="1" height="8" fill="#089981"/><rect x="991" y="473" width="3" height="8" fill="#089981"/><rect x="997" y="470" width="1" height="20" fill="#f23645"/><rect x="996" y="470" width="3" height="15" fill="#f23645"/><rect x="1001" y="482" width="1" height="3" fill="#089981"/><rect x="1000" y="483" width="3" height="1" fill="#089981"/><rect x="1005" y="486" width="1" height="5" fill="#f23645"/><rect x="1004" y="486" width="3" height="5" fill="#f23645"/><rect x="1009" y="487" width="1" height="7" fill="#089981"/><rect x="1008" y="487" width="3" height="4" fill="#089981"/><rect x="1013" y="483" width="1" height="3" fill="#f23645"/><rect x="1012" y="485" width="3" height="1" fill="#f23645"/><rect x="1017" y="486" width="1" height="4" fill="#089981"/><rect x="1016" y="489" width="3" height="1" fill="#089981"/><rect x="1022" y="477" width="1" height="5" fill="#089981"/><rect x="1021" y="481" width="3" height="1" fill="#089981"/><rect x="1026" y="487" width="1" height="4" fill="#f23645"/><rect x="1025" y="487" width="3" height="4" fill="#f23645"/><rect x="1030" y="485" width="1" height="3" fill="#f23645"/><rect x="1029" y="485" width="3" height="3" fill="#f23645"/><rect x="1034" y="485" width="1" height="2" fill="#089981"/><rect x="1033" y="486" width="3" height="1" fill="#089981"/><rect x="1038" y="482" width="1" height="4" fill="#f23645"/><rect x="1037" y="482" width="3" height="4" fill="#f23645"/><rect x="1042" y="478" width="1" height="3" fill="#089981"/><rect x="1041" y="479" width="3" height="1" fill="#089981"/><rect x="1047" y="471" width="1" height="8" fill="#089981"/><rect x="1046" y="471" width="3" height="8" fill="#089981"/><rect x="1051" y="462" width="1" height="7" fill="#f23645"/><rect x="1050" y="466" width="3" height="1" fill="#f23645"/><rect x="1055" y="464" width="1" height="7" fill="#f23645"/><rect x="1054" y="464" width="3" height="7" fill="#f23645"/><rect x="1059" y="448" width="1" height="10" fill="#089981"/><rect x="1058" y="448" width="3" height="10" fill="#089981"/><rect x="1063" y="420" width="1" height="19" fill="#f23645"/><rect x="1062" y="420" width="3" height="11" fill="#f23645"/><rect x="1067" y="417" width="1" height="14" fill="#089981"/><rect x="1066" y="419" width="3" height="12" fill="#089981"/><rect x="1071" y="428" width="1" height="9" fill="#f23645"/><rect x="1070" y="428" width="3" height="9" fill="#f23645"/><rect x="1076" y="427" width="1" height="11" fill="#089981"/><rect x="1075" y="430" width="3" height="8" fill="#089981"/><rect x="1080" y="421" width="1" height="6" fill="#089981"/><rect x="1079" y="421" width="3" height="6" fill="#089981"/><rect x="1084" y="410" width="1" height="8" fill="#089981"/><rect x="1083" y="410" width="3" height="8" fill="#089981"/><rect x="1088" y="404" width="1" height="15" fill="#f23645"/><rect x="1087" y="406" width="3" height="13" fill="#f23645"/><rect x="1092" y="413" width="1" height="14" fill="#089981"/><rect x="1091" y="416" width="3" height="11" fill="#089981"/><rect x="1096" y="428" width="1" height="6" fill="#f23645"/><rect x="1095" y="428" width="3" height="6" fill="#f23645"/><rect x="1101" y="427" width="1" height="5" fill="#089981"/><rect x="1100" y="431" width="3" height="1" fill="#089981"/><rect x="1105" y="419" width="1" height="5" fill="#089981"/><rect x="1104" y="419" width="3" height="5" fill="#089981"/><rect x="1109" y="407" width="1" height="5" fill="#089981"/><rect x="1108" y="409" width="3" height="1" fill="#089981"/><rect x="1113" y="410" width="1" height="2" fill="#089981"/><rect x="1112" y="410" width="3" height="1" fill="#089981"/><rect x="1117" y="373" width="1" height="9" fill="#089981"/><rect x="1116" y="373" width="3" height="2" fill="#089981"/><rect x="1121" y="356" width="1" height="14" fill="#f23645"/><rect x="1120" y="356" width="3" height="14" fill="#f23645"/><rect x="1126" y="369" width="1" height="12" fill="#f23645"/><rect x="1125" y="369" width="3" height="6" fill="#f23645"/><rect x="1130" y="355" width="1" height="21" fill="#089981"/><rect x="1129" y="355" width="3" height="21" fill="#089981"/><rect x="1134" y="328" width="1" height="13" fill="#f23645"/><rect x="1133" y="328" width="3" height="8" fill="#f23645"/><rect x="1138" y="311" width="1" height="20" fill="#089981"/><rect x="1137" y="320" width="3" height="3" fill="#089981"/><rect x="1142" y="324" width="1" height="26" fill="#f23645"/><rect x="1141" y="324" width="3" height="24" fill="#f23645"/><rect x="1146" y="322" width="1" height="19" fill="#089981"/><rect x="1145" y="322" width="3" height="19" fill="#089981"/><rect x="1151" y="308" width="1" height="17" fill="#f23645"/><rect x="1150" y="314" width="3" height="1" fill="#f23645"/><rect x="1155" y="291" width="1" height="17" fill="#089981"/><rect x="1154" y="302" width="3" height="6" fill="#089981"/><rect x="1159" y="304" width="1" height="11" fill="#f23645"/><rect x="1158" y="306" width="3" height="4" fill="#f23645"/><rect x="1163" y="307" width="1" height="11" fill="#089981"/><rect x="1162" y="315" width="3" height="1" fill="#089981"/><rect x="1167" y="310" width="1" height="14" fill="#f23645"/><rect x="1166" y="310" width="3" height="9" fill="#f23645"/><rect x="1171" y="299" width="1" height="15" fill="#089981"/><rect x="1170" y="299" width="3" height="15" fill="#089981"/><rect x="1175" y="275" width="1" height="8" fill="#f23645"/><rect x="1174" y="276" width="3" height="7" fill="#f23645"/><rect x="1180" y="285" width="1" height="8" fill="#f23645"/><rect x="1179" y="288" width="3" height="5" fill="#f23645"/></g><line x1="10" y1="292.5" x2="1755" y2="292.5" stroke="#f23645" stroke-width="1" stroke-dasharray="1 2"/><line x1="1183.6" y1="293.2" x2="1196.3" y2="107.5" stroke="#2962ff" stroke-width="2"/><rect x="1191.5" y="86.5" width="1.6" height="21.5" fill="#434651"/><path d="M1194.4 86.8 Q1198 85.8 1202 87.2 T1211.5 87.6 L1211.5 100 Q1207 101.5 1203 100 T1194.4 99.4 Z" fill="#2962ff"/></svg>
<svg width="1836" height="801" viewBox="0 0 1836 801" style="position:absolute;left:0;top:0;will-change:transform;font-family:'Liberation Sans',sans-serif"><rect x="10" y="10" width="1816" height="756" fill="none" stroke="#eceef2" stroke-width="2"/><line x1="11" y1="738.5" x2="1825" y2="738.5" stroke="#e6e8ee" stroke-width="1"/><text x="1764" y="728.9" font-size="12" fill="#131722" textLength="42" lengthAdjust="spacingAndGlyphs">100,000</text><text x="1764" y="686.5" font-size="12" fill="#131722" textLength="42" lengthAdjust="spacingAndGlyphs">120,000</text><text x="1764" y="644.1" font-size="12" fill="#131722" textLength="42" lengthAdjust="spacingAndGlyphs">140,000</text><text x="1764" y="601.6" font-size="12" fill="#131722" textLength="42" lengthAdjust="spacingAndGlyphs">160,000</text><text x="1764" y="559.2" font-size="12" fill="#131722" textLength="42" lengthAdjust="spacingAndGlyphs">180,000</text><text x="1764" y="516.7" font-size="12" fill="#131722" textLength="42" lengthAdjust="spacingAndGlyphs">200,000</text><text x="1764" y="474.3" font-size="12" fill="#131722" textLength="42" lengthAdjust="spacingAndGlyphs">220,000</text><text x="1764" y="431.9" font-size="12" fill="#131722" textLength="42" lengthAdjust="spacingAndGlyphs">240,000</text><text x="1764" y="389.4" font-size="12" fill="#131722" textLength="42" lengthAdjust="spacingAndGlyphs">260,000</text><text x="1764" y="347.0" font-size="12" fill="#131722" textLength="42" lengthAdjust="spacingAndGlyphs">280,000</text><text x="1764" y="304.5" font-size="12" fill="#131722" textLength="42" lengthAdjust="spacingAndGlyphs">300,000</text><text x="1764" y="262.1" font-size="12" fill="#131722" textLength="42" lengthAdjust="spacingAndGlyphs">320,000</text><text x="1764" y="219.7" font-size="12" fill="#131722" textLength="42" lengthAdjust="spacingAndGlyphs">340,000</text><text x="1764" y="177.2" font-size="12" fill="#131722" textLength="42" lengthAdjust="spacingAndGlyphs">360,000</text><text x="1764" y="134.8" font-size="12" fill="#131722" textLength="42" lengthAdjust="spacingAndGlyphs">380,000</text><text x="1764" y="92.3" font-size="12" fill="#131722" textLength="42" lengthAdjust="spacingAndGlyphs">400,000</text><text x="1764" y="49.9" font-size="12" fill="#131722" textLength="42" lengthAdjust="spacingAndGlyphs">420,000</text><text x="18.4" y="756.3" font-size="12" font-weight="normal" fill="#131722" textLength="18.9" lengthAdjust="spacingAndGlyphs">Aug</text><text x="176.7" y="756.3" font-size="12" font-weight="normal" fill="#131722" textLength="18.2" lengthAdjust="spacingAndGlyphs">Oct</text><text x="267.2" y="756.3" font-size="12" font-weight="normal" fill="#131722" textLength="20.3" lengthAdjust="spacingAndGlyphs">Nov</text><text x="354.4" y="756.3" font-size="12" font-weight="normal" fill="#131722" textLength="19.6" lengthAdjust="spacingAndGlyphs">Dec</text><text x="446.8" y="756.3" font-size="12" font-weight="bold" fill="#131722" textLength="27.3" lengthAdjust="spacingAndGlyphs">2025</text><text x="600.0" y="756.3" font-size="12" font-weight="normal" fill="#131722" textLength="19.4" lengthAdjust="spacingAndGlyphs">Mar</text><text x="757.6" y="756.3" font-size="12" font-weight="normal" fill="#131722" textLength="20.3" lengthAdjust="spacingAndGlyphs">May</text><text x="846.4" y="756.3" font-size="12" font-weight="normal" fill="#131722" textLength="18.2" lengthAdjust="spacingAndGlyphs">Jun</text><text x="974.8" y="756.3" font-size="12" font-weight="normal" fill="#131722" textLength="18.9" lengthAdjust="spacingAndGlyphs">Aug</text><text x="1062.0" y="756.3" font-size="12" font-weight="normal" fill="#131722" textLength="18.6" lengthAdjust="spacingAndGlyphs">Sep</text><text x="1145.6" y="756.3" font-size="12" font-weight="normal" fill="#131722" textLength="18.2" lengthAdjust="spacingAndGlyphs">Oct</text><text x="1232.3" y="756.3" font-size="12" font-weight="normal" fill="#131722" textLength="20.3" lengthAdjust="spacingAndGlyphs">Nov</text><text x="1323.9" y="756.3" font-size="12" font-weight="normal" fill="#131722" textLength="19.6" lengthAdjust="spacingAndGlyphs">Dec</text><text x="1415.5" y="756.3" font-size="12" font-weight="bold" fill="#131722" textLength="27.5" lengthAdjust="spacingAndGlyphs">2026</text><text x="1507.5" y="756.3" font-size="12" font-weight="normal" fill="#131722" textLength="18.9" lengthAdjust="spacingAndGlyphs">Feb</text><text x="1590.0" y="756.3" font-size="12" font-weight="normal" fill="#131722" textLength="19.4" lengthAdjust="spacingAndGlyphs">Mar</text><text x="1686.3" y="756.3" font-size="12" font-weight="normal" fill="#131722" textLength="18.3" lengthAdjust="spacingAndGlyphs">Apr</text><rect x="1755" y="267" width="56" height="16.30000000000001" rx="1.5" fill="#f23645"/><text x="1764" y="279.3" font-size="12" fill="#ffffff" textLength="42" lengthAdjust="spacingAndGlyphs">304,070</text><rect x="1755" y="283.3" width="56" height="16.69999999999999" rx="1.5" fill="#43a047"/><text x="1764" y="295.8" font-size="12" fill="#ffffff" textLength="42" lengthAdjust="spacingAndGlyphs">304,070</text><rect x="1755" y="300" width="56" height="17.5" rx="1.5" fill="#2196f3"/><text x="1764" y="312.9" font-size="12" fill="#ffffff" textLength="42" lengthAdjust="spacingAndGlyphs">296,600</text><rect x="1755" y="323.8" width="56" height="16.69999999999999" rx="1.5" fill="#a5d6a7"/><text x="1764" y="336.3" font-size="12" fill="#131722" textLength="42" lengthAdjust="spacingAndGlyphs">285,175</text><rect x="1755" y="347.5" width="56" height="17.0" rx="1.5" fill="#801922"/><text x="1764" y="360.2" font-size="12" fill="#ffffff" textLength="42" lengthAdjust="spacingAndGlyphs">273,750</text><rect x="1755" y="386.3" width="56" height="16.69999999999999" rx="1.5" fill="#ef9a9a"/><text x="1764" y="398.8" font-size="12" fill="#131722" textLength="42" lengthAdjust="spacingAndGlyphs">255,519</text><rect x="1756" y="643.7" width="66" height="17" rx="1.5" fill="#f7525f"/><text x="1764.4" y="656.5" font-size="12" fill="#ffffff" textLength="52.6" lengthAdjust="spacingAndGlyphs">117.848 M</text><rect x="1201.3" y="210.9" width="203.5" height="93.7" rx="4" fill="rgba(227,240,251,0.93)"/><line x1="1201" y1="292.5" x2="1405" y2="292.5" stroke="#f23645" stroke-width="1" stroke-dasharray="1 2" stroke-dashoffset="0"/><g fill="none" stroke="#131722" stroke-width="1.2"><line x1="1214" y1="223.5" x2="1225" y2="223.5"/><line x1="1214" y1="236.5" x2="1225" y2="236.5"/><line x1="1219.5" y1="225.5" x2="1219.5" y2="234.5"/><polyline points="1217.5,227.5 1219.5,225.5 1221.5,227.5"/><polyline points="1217.5,232.5 1219.5,234.5 1221.5,232.5"/><rect x="1212.6" y="254.5" width="2" height="8"/><rect x="1225.5" y="254.5" width="2" height="8"/><line x1="1213.6" y1="251.5" x2="1213.6" y2="254.5"/><line x1="1213.6" y1="262.5" x2="1213.6" y2="265"/><line x1="1226.5" y1="251.5" x2="1226.5" y2="254.5"/><line x1="1226.5" y1="262.5" x2="1226.5" y2="265"/><line x1="1216.3" y1="258.5" x2="1223.7" y2="258.5"/><polyline points="1218.2,256.6 1216.3,258.5 1218.2,260.4"/><polyline points="1221.8,256.6 1223.7,258.5 1221.8,260.4"/><line x1="1214" y1="291.2" x2="1225.7" y2="291.2"/><line x1="1214.5" y1="290.9" x2="1220.9" y2="280.2"/><path d="M1218.1 284.9 Q1221.5 286.5 1222 291"/></g><text x="1238.7" y="232.9" font-size="12.3" fill="#131722" textLength="128.7" lengthAdjust="spacingAndGlyphs">87,230 (28.73%), 87,230</text><text x="1238.7" y="261.1" font-size="12.3" fill="#131722" textLength="153.6" lengthAdjust="spacingAndGlyphs">3 bars (3d), distance: 185 px</text><text x="1238.7" y="288.5" font-size="12.3" fill="#131722">86º</text><text x="18.8" y="29" font-size="12.6" fill="#131722">1</text><path d="M62.68 29.41 62.68 30.06 63.36 30.06 63.36 29.41ZM61.46 29.41 61.46 30.00 62.13 30.06 62.13 29.41ZM38.76 29.41 38.76 30.06 39.43 30.06 39.43 29.41ZM37.60 29.41 37.60 30.06 38.21 30.06 38.21 29.41ZM57.19 26.16 56.34 26.16 56.58 26.87 56.58 27.87 56.40 28.46 56.03 28.99 54.87 29.82 53.77 30.11 52.92 30.17 52.92 30.94 53.90 30.88 55.18 30.53 56.22 30.00 56.76 29.47 57.07 28.99 57.37 27.99 57.37 26.75ZM79.65 25.45 79.34 25.16 78.85 24.92 77.63 24.86 76.84 25.16 76.35 25.69 76.35 26.40 76.60 26.81 77.21 27.16 78.24 27.46 78.61 27.70 78.67 28.05 78.12 28.64 77.15 28.99 75.86 29.17 74.95 28.99 74.52 28.70 74.34 28.34 74.34 27.81 74.64 27.11 73.79 27.11 73.55 27.70 73.55 28.52 73.73 28.99 74.28 29.52 75.13 29.88 76.90 29.82 77.94 29.58 78.73 29.23 79.40 28.58 79.59 27.99 79.53 27.70 79.04 27.05 77.39 26.40 77.15 26.16 77.15 25.98 77.33 25.75 77.70 25.57 78.37 25.51 78.73 25.63 79.04 26.04 79.83 26.04ZM32.60 28.64 33.27 28.82 34.25 28.76 34.86 28.52 35.41 28.05 35.83 28.46 36.26 28.64 37.73 28.64 38.34 28.40 38.52 28.23 38.89 28.52 39.31 28.64 41.39 28.64 42.30 28.40 43.64 28.64 45.90 28.64 46.45 28.40 47.00 28.76 48.22 28.88 48.83 28.64 49.26 28.23 49.38 27.87 49.38 27.05 49.20 26.52 48.71 26.04 48.16 25.87 47.31 25.87 46.82 26.10 46.39 26.52 46.21 26.87 46.15 27.34 45.78 27.75 45.48 27.87 43.64 27.81 43.58 27.64 43.95 26.93 43.95 26.28 43.83 25.93 43.03 25.22 42.12 25.16 41.45 25.57 41.08 26.16 41.02 26.69 41.14 27.22 41.45 27.70 41.33 27.81 39.68 27.87 39.31 27.75 38.95 27.28 38.95 25.93 38.09 25.93 38.09 27.22 37.97 27.52 37.73 27.75 37.36 27.87 36.63 27.87 36.26 27.75 35.77 27.22 35.59 26.22 34.98 25.22 34.55 24.80 33.52 24.80 34.49 25.81 34.86 26.63 34.86 27.22 34.43 27.75 33.94 27.99 33.21 28.05 32.60 27.87ZM47.55 26.69 48.16 26.75 48.53 27.16 48.53 27.70 48.10 28.11 47.37 28.05 46.88 27.75 47.06 27.05ZM42.61 25.93 43.10 26.40 43.10 26.87 42.91 27.22 42.49 27.52 42.00 27.11 41.88 26.46 42.30 25.98ZM42.18 23.39 42.18 24.04 42.85 24.04 42.85 23.45ZM80.99 22.21 83.25 27.22 82.82 27.64 82.39 27.87 81.66 27.93 81.23 27.81 81.23 28.58 81.36 28.64 82.64 28.64 83.55 28.11 84.41 27.22 84.83 28.11 85.20 28.46 85.63 28.64 91.18 28.58 92.65 28.05 93.32 27.34 93.44 26.81 93.19 25.93 92.83 25.57 91.85 25.28 91.00 25.34 90.20 25.63 89.23 26.34 88.44 27.28 88.37 27.22 88.37 21.50 87.52 21.50 87.46 27.87 85.75 27.81 85.20 27.11 85.08 26.63 85.08 21.50 84.22 21.50 84.22 25.45 84.10 26.10 83.80 26.57 81.78 22.21ZM92.52 26.40 92.52 26.99 91.55 27.64 90.45 27.87 89.05 27.81 90.02 26.75 90.88 26.16 91.18 26.04 91.97 26.04ZM58.96 21.50 58.96 27.28 59.21 28.05 59.63 28.46 60.18 28.64 61.65 28.64 62.50 28.29 62.68 28.46 63.23 28.64 64.58 28.64 66.04 28.23 68.73 26.99 68.73 26.22 67.02 26.93 66.59 26.93 65.86 26.40 65.73 25.51 65.92 25.10 66.59 24.63 67.69 24.51 67.69 23.80 67.02 23.80 66.22 23.98 65.67 24.27 65.06 25.10 64.94 25.69 65.00 26.40 65.25 26.87 65.92 27.40 64.76 27.81 63.36 27.81 63.11 27.70 62.87 27.34 62.81 25.93 62.01 25.93 62.01 27.16 61.83 27.58 61.22 27.87 60.55 27.87 60.18 27.75 59.88 27.46 59.75 26.93 59.75 21.50Z" fill="#131722" fill-rule="evenodd" stroke="#131722" stroke-width="0" stroke-linejoin="round"/><text x="94.5" y="29" font-size="12.6" fill="#131722">D</text><text x="108.8" y="29" font-size="12.6" fill="#131722">O</text><text x="116.5" y="29" font-size="12.6" fill="#f23645" textLength="42" lengthAdjust="spacingAndGlyphs">306,126</text><text x="166.7" y="29" font-size="12.6" fill="#131722">H</text><text x="174" y="29" font-size="12.6" fill="#f23645" textLength="41.5" lengthAdjust="spacingAndGlyphs">307,600</text><text x="223.8" y="29" font-size="12.6" fill="#131722">L</text><text x="229.3" y="29" font-size="12.6" fill="#f23645" textLength="41.4" lengthAdjust="spacingAndGlyphs">304,000</text><text x="279.2" y="29" font-size="12.6" fill="#131722">C</text><text x="285.7" y="29" font-size="12.6" fill="#f23645" textLength="42" lengthAdjust="spacingAndGlyphs">304,070</text><text x="335.3" y="29" font-size="12.6" fill="#f23645" textLength="35" lengthAdjust="spacingAndGlyphs">−4,789</text><text x="376" y="29" font-size="12.6" fill="#f23645" textLength="44.6" lengthAdjust="spacingAndGlyphs">(−1.55%)</text><text x="18.8" y="45.5" font-size="12.6" fill="#131722" textLength="37.6" lengthAdjust="spacingAndGlyphs">Volume</text><text x="72.7" y="45.5" font-size="12.6" fill="#f23645" textLength="43.8" lengthAdjust="spacingAndGlyphs">117.848M</text><text x="18.8" y="62" font-size="12.6" fill="#131722" textLength="147.9" lengthAdjust="spacingAndGlyphs">Ichimoku (9, 26, 52, 26, 26)</text><text x="175" y="62" font-size="12.6" fill="#2196f3" textLength="41" lengthAdjust="spacingAndGlyphs">296,600</text><text x="224.3" y="62" font-size="12.6" fill="#801922" textLength="41.4" lengthAdjust="spacingAndGlyphs">273,750</text><text x="274" y="62" font-size="12.6" fill="#43a047" textLength="41.3" lengthAdjust="spacingAndGlyphs">304,070</text><text x="323.3" y="62" font-size="12.6" fill="#a5d6a7" textLength="41.4" lengthAdjust="spacingAndGlyphs">285,175</text><text x="373" y="62" font-size="12.6" fill="#ef9a9a" textLength="41" lengthAdjust="spacingAndGlyphs">255,519</text><rect x="8" y="8" width="396.8" height="57" fill="rgba(255,255,255,0.8)"/><rect x="8" y="65" width="277.6" height="37" fill="rgba(255,255,255,0.8)"/><rect x="8" y="102" width="153.7" height="38" fill="rgba(255,255,255,0.8)"/><rect x="8" y="140" width="132" height="37" fill="rgba(255,255,255,0.8)"/><path d="M70.59 44.30 69.73 45.12 70.59 45.94 70.84 45.94 71.70 45.12ZM378.97 44.06 378.11 44.77 378.11 45.00 379.22 45.83 379.95 44.89ZM298.01 44.06 297.15 44.89 298.25 45.83 299.11 45.00ZM259.31 44.06 258.32 44.89 259.55 45.83 260.29 44.89ZM143.69 44.06 142.83 44.89 143.94 45.83 144.80 44.89ZM381.06 43.59 380.20 44.42 381.31 45.36 382.17 44.42ZM300.22 43.59 299.36 44.42 300.34 45.36 301.20 44.42ZM261.39 43.59 260.53 44.42 261.64 45.36 262.50 44.53ZM145.91 43.59 145.05 44.42 146.03 45.36 146.89 44.42ZM370.86 38.66 369.76 39.72 370.37 42.18 370.00 42.89 367.55 45.12 366.32 45.83 364.60 46.30 364.47 46.65 367.05 46.88 368.90 46.18 369.76 45.47 370.62 44.18 371.11 42.30 371.11 39.72ZM289.90 38.66 288.79 39.83 289.41 42.07 289.16 42.77 286.95 44.89 285.11 45.94 283.63 46.30 283.63 46.65 284.98 46.88 286.58 46.77 287.93 46.18 289.04 45.24 289.77 43.95 290.14 42.54 290.27 40.54ZM160.16 46.65 162.74 46.88 164.09 46.41 164.83 45.94 165.93 44.65 166.42 43.59 166.79 41.95 167.04 42.30 168.63 42.30 169.62 40.89 170.60 42.07 171.22 42.30 172.44 42.07 173.18 41.24 174.16 42.18 175.76 42.18 176.38 41.71 176.74 41.01 176.50 39.25 176.01 38.66 175.02 39.72 175.76 40.42 175.76 40.77 175.27 41.01 174.16 40.89 173.67 40.42 173.30 39.25 172.69 39.72 172.57 40.42 172.08 41.01 171.09 41.01 170.48 40.42 170.11 39.13 168.76 40.77 167.77 40.89 166.79 40.19 166.42 38.66 165.44 39.72 166.05 42.18 165.69 42.89 163.23 45.12 161.39 46.06 160.28 46.30ZM108.43 38.66 107.33 39.83 107.94 42.07 107.70 42.77 105.48 44.89 103.64 45.94 102.17 46.30 102.17 46.65 103.52 46.88 105.12 46.77 106.47 46.18 107.57 45.24 108.31 43.95 108.68 42.54 108.80 40.54ZM200.09 37.84 199.60 37.60 198.37 37.84 197.38 39.01 197.14 39.83 197.14 41.48 197.63 42.18 199.10 42.42 199.60 42.30 200.21 41.71 200.33 41.83 199.72 43.24 197.75 45.24 196.40 45.94 194.80 46.30 194.80 46.65 196.03 46.88 197.51 46.77 199.23 45.94 200.33 44.77 201.07 42.42 201.07 39.83 200.82 38.89ZM198.61 38.66 199.23 38.66 199.96 39.36 200.46 40.30 200.33 40.89 198.86 41.13 197.75 40.66 198.00 39.36ZM329.21 37.48 328.84 37.25 328.23 37.25 327.00 37.60 325.65 38.78 324.91 40.19 324.79 41.48 325.28 42.07 325.90 42.30 327.86 42.30 328.72 42.65 328.60 43.12 327.74 43.95 326.14 44.77 323.68 45.36 320.98 45.36 320.12 45.00 319.38 44.30 319.02 43.36 319.02 41.71 320.00 39.60 319.75 39.48 319.02 40.42 318.28 42.18 318.16 43.95 318.65 45.36 319.63 46.18 320.86 46.65 323.56 46.77 325.90 46.18 327.62 45.12 329.09 43.24 329.34 41.60 328.84 41.13 326.14 41.01 325.65 40.66 325.65 40.19 327.49 38.54 328.48 38.42 329.34 38.78 329.46 38.31ZM101.43 37.60 100.94 37.25 100.32 37.25 98.97 37.72 97.74 38.89 97.01 40.54 97.01 41.60 97.50 42.07 98.11 42.30 100.08 42.30 100.94 42.77 100.08 43.83 98.60 44.65 96.64 45.24 93.20 45.36 92.34 45.00 91.60 44.30 91.11 42.65 91.36 41.13 92.22 39.60 91.97 39.36 90.50 42.07 90.37 44.18 90.74 45.24 91.60 46.06 93.81 46.77 96.52 46.65 98.97 45.71 100.82 44.06 101.43 42.77 101.55 41.71 101.31 41.24 98.73 41.13 98.11 40.89 97.74 40.42 97.87 40.07 99.71 38.54 100.69 38.42 101.55 38.78ZM192.84 37.02 192.22 36.66 191.24 37.02 190.63 37.72 190.14 38.89 190.14 39.72 190.63 40.66 191.49 41.36 192.35 41.24 193.33 40.07 193.58 40.19 193.70 41.24 192.96 42.54 191.86 43.59 190.87 44.18 189.28 44.65 186.82 44.53 185.34 44.06 184.61 43.48 183.99 42.30 183.87 41.13 184.36 38.78 184.12 38.78 183.38 41.01 183.38 43.01 183.87 44.42 185.22 45.47 187.31 45.94 190.26 45.71 192.35 44.65 193.45 43.36 194.19 41.36 193.94 39.01ZM191.86 37.95 192.59 38.42 192.96 39.25 192.47 39.72 191.61 39.95 190.87 39.01ZM250.71 41.60 251.69 42.30 253.65 42.30 254.64 41.60 255.74 42.30 259.06 42.30 259.67 42.07 260.90 40.66 261.39 41.48 262.62 42.30 264.71 42.30 267.17 41.24 269.50 42.18 271.22 42.30 271.84 42.07 273.19 40.77 273.43 41.48 274.05 42.07 276.26 42.54 277.49 41.71 277.98 40.54 277.24 38.89 275.77 37.72 273.80 38.66 271.71 40.77 271.22 41.01 270.36 41.01 268.52 40.54 268.40 40.19 268.89 39.72 269.26 38.89 269.13 37.72 267.91 36.31 266.92 36.19 265.82 37.13 265.20 38.31 265.45 39.48 266.19 40.30 265.94 40.54 264.22 41.01 262.87 40.89 261.76 39.72 260.53 36.78 259.92 37.84 260.53 39.83 260.29 40.19 258.81 41.01 256.97 41.01 256.11 40.66 255.13 39.60 254.27 37.72 253.53 35.14 253.29 35.37 253.29 36.55 253.78 39.25 254.39 40.89 251.44 41.01 250.58 40.42ZM273.93 39.72 274.91 39.01 275.28 39.01 277.24 40.66 276.75 41.13 275.40 41.01 274.54 40.66 273.93 40.07ZM266.92 37.25 267.17 37.25 268.40 38.66 268.40 39.13 267.41 39.83 267.05 39.72 266.06 38.54 266.06 38.07ZM203.04 41.60 204.02 42.30 205.98 42.30 206.97 41.60 208.07 42.30 211.39 42.30 212.00 42.07 213.23 40.66 213.72 41.48 214.58 42.18 216.67 42.30 217.78 41.83 218.88 40.66 220.11 41.60 222.20 42.30 223.80 42.30 225.15 41.95 226.13 41.24 226.50 40.42 226.50 39.36 225.76 38.19 225.27 37.72 224.54 37.48 223.68 37.72 221.59 38.89 219.99 40.42 218.64 39.13 217.90 39.83 217.90 40.19 217.41 40.77 216.92 41.01 215.20 40.89 214.09 39.72 212.86 36.78 212.25 37.84 212.86 39.83 212.62 40.19 211.14 41.01 209.30 41.01 208.44 40.66 207.46 39.60 206.60 37.72 205.86 35.14 205.62 35.37 205.62 36.55 206.11 39.25 206.72 40.89 203.77 41.01 202.91 40.42ZM225.40 39.83 225.40 40.54 224.41 41.01 222.08 41.13 220.60 40.77 222.20 39.36 223.80 38.54 224.29 38.54ZM135.59 39.60 135.71 41.01 136.08 41.48 136.94 41.83 138.29 41.71 139.76 40.19 140.13 41.13 140.99 42.07 141.73 42.30 145.66 42.30 146.15 41.83 146.64 40.66 146.64 38.42 145.91 36.66 145.17 37.95 146.03 40.42 145.66 41.01 141.85 41.01 141.24 40.77 140.13 39.48 139.15 34.67 138.78 35.49 138.78 36.43 136.57 37.84ZM138.90 37.25 139.15 37.60 139.52 39.60 138.53 40.42 136.94 40.30 136.69 40.07 136.94 39.01 138.17 37.60ZM190.50 33.49 189.64 34.31 190.75 35.25 191.49 34.31ZM211.88 33.14 211.14 33.96 212.13 34.90 212.99 33.96 212.13 33.14ZM192.72 32.90 191.86 33.84 192.84 34.78 193.70 33.84ZM267.17 32.67 266.19 33.49 267.41 34.43 268.15 33.49ZM117.16 32.08 116.30 32.79 116.30 33.02 117.40 33.84 118.14 32.90ZM79.93 31.73 79.07 32.55 80.18 33.49 80.91 32.55ZM82.14 31.26 81.16 32.08 82.26 33.02 83.12 32.08ZM331.55 31.02 331.67 32.43 332.65 32.67 333.64 33.49 334.99 35.37 335.97 37.25 335.23 34.55 334.13 32.32 333.14 31.38ZM65.43 29.85 64.08 31.26 64.08 31.96 65.43 38.31 65.56 42.65 64.94 43.71 64.20 44.42 62.36 45.24 60.52 45.24 58.80 44.89 57.82 44.18 57.45 43.36 57.45 42.07 58.31 39.72 57.82 39.60 56.83 41.95 56.71 44.06 57.32 45.59 58.80 46.53 60.03 46.77 61.99 46.77 63.34 46.41 64.20 45.94 65.31 44.89 66.05 43.71 66.54 42.18 71.21 42.30 72.07 41.13 72.19 38.31 71.45 36.66 70.72 37.95 71.58 40.19 71.58 40.66 71.21 41.01 67.77 41.01 66.54 40.07 66.05 37.95ZM29.07 40.07 28.33 38.78 26.98 37.72 25.13 38.54 23.05 40.66 22.43 41.01 21.82 41.01 20.83 40.30 20.59 39.60 20.59 35.84 20.10 29.85 19.73 30.55 18.87 31.02 19.36 33.37 19.73 37.13 19.73 39.36 19.48 40.07 18.25 41.01 16.17 41.01 15.55 40.77 14.45 39.48 13.46 34.67 13.09 35.49 13.09 36.43 11.62 37.25 10.27 38.66 9.90 39.60 9.90 40.77 10.39 41.48 11.25 41.83 12.11 41.83 12.97 41.48 14.08 40.19 14.69 41.48 15.31 42.07 16.04 42.30 18.25 42.30 19.97 41.13 20.71 41.95 22.31 42.30 23.17 41.95 24.27 40.77 24.89 41.83 26.12 42.42 27.47 42.54 28.33 42.07 28.82 41.48ZM25.01 39.83 25.87 39.13 26.36 39.01 27.84 40.07 28.33 40.77 27.96 41.13 26.12 40.89 25.50 40.54ZM13.22 37.25 13.46 37.60 13.83 39.60 12.85 40.42 11.25 40.30 11.01 40.07 11.25 39.01 12.48 37.60ZM353.78 29.73 353.66 29.85 355.38 31.49 356.36 33.14 356.98 36.43 356.98 39.01 356.61 41.48 355.63 43.48 353.66 45.36 353.91 45.59 355.26 44.65 357.35 42.30 358.21 40.30 358.58 37.60 358.21 35.14 357.10 32.79 355.38 30.79ZM248.62 29.61 247.27 30.55 245.67 32.08 244.93 33.14 244.19 34.90 243.83 37.13 244.07 39.72 245.05 42.18 246.65 44.18 248.49 45.59 248.74 45.36 247.02 43.83 245.79 41.48 245.42 39.36 245.42 35.84 246.16 32.79 246.90 31.61 248.74 29.85ZM237.81 29.61 236.58 29.73 232.15 42.54 233.51 42.42ZM374.43 29.50 373.81 30.79 374.30 36.90 374.30 39.60 374.92 41.36 375.65 42.07 376.39 42.30 378.73 42.30 379.34 42.07 380.57 40.66 381.18 41.60 382.29 42.30 385.48 42.30 389.54 41.60 392.49 40.42 392.98 39.13 389.54 40.19 387.33 39.36 386.10 38.42 386.10 37.72 387.69 36.66 388.55 36.43 391.26 36.66 390.64 35.96 389.91 35.61 387.82 35.37 386.71 35.84 386.10 36.43 385.11 38.54 385.36 39.25 387.45 40.66 385.97 41.01 382.90 41.01 382.41 40.77 381.67 40.07 380.94 38.66 380.32 36.66 379.59 37.95 380.20 39.72 380.08 40.07 378.48 41.01 376.64 41.01 376.15 40.77 375.41 39.83 375.16 39.01 375.04 33.61ZM330.20 42.30 333.64 42.30 336.34 41.71 337.69 40.19 338.80 37.48 339.04 38.19 339.29 41.13 339.66 41.83 340.52 42.30 349.12 42.30 351.70 41.24 352.31 40.66 352.31 40.19 351.45 38.89 350.22 37.95 348.62 38.19 347.03 39.13 345.80 40.30 345.55 40.07 345.55 38.31 344.94 33.26 345.80 31.96 345.06 31.14 344.69 30.44 344.57 29.50 344.32 29.50 343.71 30.08 343.34 31.02 344.57 36.43 344.94 40.54 344.45 41.01 340.76 41.01 340.02 40.30 339.78 39.72 339.29 35.25 339.41 33.02 339.66 32.43 340.27 31.85 339.16 30.79 338.30 29.38 338.55 34.78 338.06 37.25 337.44 38.66 335.48 40.66 333.02 41.60ZM351.08 39.95 351.08 40.42 350.47 40.77 348.75 41.01 346.29 40.89 348.01 39.36 349.24 38.78 349.73 38.78ZM293.46 29.50 292.85 30.79 293.34 35.96 293.34 39.13 293.71 40.89 294.57 41.95 295.43 42.30 297.76 42.30 298.74 41.83 299.60 40.66 300.34 41.71 301.08 42.18 304.52 42.30 308.20 41.71 311.52 40.42 312.01 39.13 309.56 40.07 308.57 40.19 306.36 39.36 305.13 38.31 305.13 37.84 305.50 37.37 307.10 36.55 309.19 36.43 310.29 36.66 309.68 35.96 308.70 35.49 306.85 35.37 305.26 36.31 304.52 37.48 304.15 38.66 305.13 39.83 306.36 40.42 306.36 40.77 305.13 41.01 302.06 41.01 301.45 40.77 300.22 39.13 299.36 36.66 298.62 37.95 299.24 39.95 298.01 40.89 295.43 40.89 294.69 40.19 294.20 38.66 294.07 33.37ZM150.08 29.38 149.35 30.79 149.84 35.96 149.84 39.13 150.08 40.54 150.57 41.48 151.56 42.18 152.66 42.30 153.52 41.95 154.63 40.77 155.24 41.83 156.10 42.30 157.58 42.54 158.31 42.30 159.30 41.24 159.42 40.07 158.68 38.78 157.33 37.72 155.49 38.54 153.40 40.66 152.79 41.01 151.93 40.89 151.19 40.19 150.70 38.66 150.70 35.02ZM155.37 39.83 156.23 39.13 156.72 39.01 158.19 40.07 158.68 40.77 158.31 41.13 156.47 40.89 155.86 40.54ZM111.75 29.38 110.89 30.91 111.51 35.37 111.51 43.01 112.00 41.83 112.49 39.48 112.49 35.37ZM75.63 29.38 75.02 30.67 75.02 32.08 75.38 35.14 75.51 39.72 75.88 41.01 76.37 41.71 77.47 42.30 80.79 42.18 83.62 41.13 83.86 39.95 83.74 37.13 83.12 35.61 82.14 34.78 81.16 34.78 80.30 35.61 79.68 37.25 79.68 38.42 80.18 39.13 81.16 39.60 82.26 39.36 83.00 38.66 83.25 38.89 83.25 40.07 82.02 40.66 80.18 41.01 77.72 41.01 76.74 40.07 76.37 39.13 76.24 33.96ZM80.42 37.13 80.79 36.43 81.40 36.08 82.39 36.90 83.00 37.84 82.51 38.19 81.16 38.19 80.42 37.60ZM32.38 29.38 31.77 30.67 31.77 32.08 32.14 35.14 32.26 39.72 32.63 41.01 33.12 41.71 34.23 42.30 36.07 42.30 37.67 41.71 39.14 40.54 40.37 41.60 42.21 42.30 43.69 42.18 45.16 40.77 45.78 41.83 47.00 42.42 48.36 42.54 49.46 41.83 49.95 40.89 49.83 39.72 49.22 38.78 47.86 37.72 46.02 38.54 43.93 40.66 43.32 41.01 42.09 41.01 40.74 40.42 40.12 39.83 41.23 38.66 41.60 37.95 41.60 37.37 41.11 36.78 39.51 36.31 38.03 36.43 37.30 36.78 36.68 37.60 36.44 39.01 36.81 39.01 37.79 38.07 38.53 39.36 37.91 40.07 36.19 40.89 34.23 40.89 33.49 40.07 33.12 39.13 33.00 33.96ZM45.90 39.83 46.76 39.13 47.25 39.01 48.72 40.07 49.22 40.77 48.85 41.13 47.00 40.89 46.39 40.54ZM40.00 37.25 40.49 37.95 39.51 38.78 39.02 38.31 38.77 37.60 39.39 37.25ZM129.44 29.26 124.16 32.67 122.93 33.84 122.32 34.78 122.19 35.37 122.44 36.08 123.42 36.78 124.04 36.66 125.02 37.25 127.48 39.25 127.72 40.19 126.99 40.89 121.09 41.01 120.23 40.66 119.61 40.07 118.75 38.54 117.65 35.14 117.40 35.37 117.40 36.31 117.89 39.13 118.51 40.89 115.68 41.01 115.07 40.42 114.70 40.42 114.95 41.71 115.81 42.30 117.77 42.30 118.75 41.60 119.98 42.30 126.62 42.30 127.48 41.95 128.09 41.36 128.34 40.77 128.34 39.60 127.85 38.54 126.62 37.13 123.42 35.14 123.05 34.67 124.65 33.37 129.32 30.55ZM128.09 27.50 126.99 27.97 125.27 29.14 123.67 30.67 122.69 31.96 128.09 28.32Z" fill="#000" fill-rule="evenodd" stroke="#000" stroke-width="0.6" stroke-linejoin="round"/><path d="M81.37 83.49 80.52 84.34 81.61 85.32 82.45 84.34ZM155.74 83.24 154.89 84.10 155.98 85.08 156.83 84.10ZM127.32 83.24 126.47 83.98 126.47 84.22 127.56 85.08 128.29 84.10ZM22.84 83.24 21.99 84.10 23.08 85.08 23.92 84.10ZM157.92 82.75 157.07 83.61 158.16 84.59 158.88 83.61ZM129.38 82.75 128.53 83.61 129.62 84.59 130.47 83.61ZM25.01 82.75 24.17 83.61 25.13 84.59 25.98 83.61ZM233.14 77.62 232.05 78.72 232.65 81.29 232.29 82.02 229.87 84.34 228.66 85.08 226.97 85.57 226.85 85.93 229.39 86.18 231.20 85.44 232.05 84.71 232.90 83.37 233.38 81.41 233.38 78.72ZM221.16 77.62 220.20 78.72 220.68 81.53 220.20 82.26 218.14 84.22 216.45 85.20 215.12 85.57 215.00 85.93 216.33 86.18 217.90 86.06 219.23 85.44 220.44 84.34 221.29 82.51 221.53 80.92 221.53 79.21ZM225.03 76.64 224.07 76.52 223.46 76.76 222.74 77.62 222.25 78.96 222.25 80.43 222.74 81.29 224.19 81.53 225.28 80.92 225.40 81.04 224.91 82.26 222.74 84.59 221.53 85.20 219.96 85.57 219.96 85.93 221.16 86.18 222.62 86.06 224.67 84.95 225.28 84.22 225.76 83.24 226.12 81.65 226.12 78.60 225.76 77.50ZM225.28 80.80 225.40 80.67 225.52 80.92 225.40 81.04ZM223.58 77.74 224.31 77.62 225.16 78.47 225.52 79.21 225.40 79.94 223.95 80.19 222.86 79.70 223.10 78.47ZM69.27 76.64 68.31 76.52 67.70 76.76 66.98 77.62 66.49 78.96 66.49 80.43 66.98 81.29 68.43 81.53 69.52 80.92 69.64 81.04 69.15 82.26 66.98 84.59 65.77 85.20 64.19 85.57 64.19 85.93 65.40 86.18 66.85 86.06 68.91 84.95 69.52 84.22 70.00 83.24 70.36 81.65 70.36 78.60 70.00 77.50ZM69.52 80.80 69.64 80.67 69.76 80.92 69.64 81.04ZM67.82 77.74 68.55 77.62 69.39 78.47 69.76 79.21 69.64 79.94 68.18 80.19 67.10 79.70 67.34 78.47ZM178.84 76.88 175.69 76.52 171.70 75.05 170.37 75.29 168.80 76.64 169.16 76.64 169.89 76.15 170.98 76.15 174.61 77.37 174.85 77.62 169.89 79.94 167.35 80.06 166.14 79.45 165.66 77.62 164.69 78.72 165.17 80.80 165.17 81.53 164.81 82.14 162.63 84.22 160.94 85.20 159.61 85.57 159.49 85.93 162.03 86.18 164.21 85.08 164.93 84.22 165.54 83.00 166.02 80.92 167.47 81.41 170.13 81.16 172.07 80.31 174.73 78.72 176.78 78.11 178.48 77.98ZM157.92 75.54 157.19 76.88 157.92 78.72 158.04 79.70 157.68 80.06 153.68 80.06 153.20 76.52 152.60 74.80 151.63 76.39 152.48 78.11 152.96 80.43 152.96 81.53 151.51 83.12 150.54 83.61 149.33 83.85 147.27 83.85 146.19 83.61 144.86 82.63 144.25 81.29 144.13 80.06 144.61 77.62 144.25 77.50 143.65 79.94 143.65 82.26 144.13 83.61 144.86 84.47 145.94 84.95 147.03 85.20 149.21 85.20 150.78 84.83 151.87 84.22 152.72 83.24 153.44 81.41 157.68 81.41 158.16 80.92 158.64 79.82 158.64 77.25ZM62.38 74.80 61.29 76.39 61.78 77.01 62.62 80.19 62.62 81.53 61.41 83.00 60.08 83.61 56.94 83.85 55.00 83.12 54.40 82.39 53.91 81.04 53.91 79.33 54.28 77.62 53.91 77.50 53.31 80.19 53.31 82.14 53.79 83.61 54.40 84.34 56.09 85.08 58.99 85.20 60.45 84.83 62.02 83.85 62.74 82.51 63.23 80.55 63.23 78.47ZM72.18 79.45 72.30 80.67 73.26 81.41 75.20 81.41 76.17 80.67 77.25 81.41 81.97 81.41 82.58 80.80 83.06 79.45 82.94 77.13 82.21 75.54 81.61 76.76 81.61 77.25 82.33 79.08 82.21 79.94 77.98 79.94 76.89 78.96 76.17 77.62 75.08 73.95 74.84 74.19 74.84 75.42 75.32 78.23 75.92 79.94 73.02 80.06ZM27.67 79.45 27.79 80.67 28.76 81.41 30.70 81.41 31.66 80.67 32.75 81.41 35.41 81.41 37.23 80.67 38.56 79.57 39.52 80.55 40.98 81.29 45.57 81.41 46.05 80.92 46.54 79.70 46.54 77.37 45.81 75.54 45.09 77.13 45.45 77.74 45.93 79.70 45.57 80.06 41.46 80.06 40.25 79.57 39.40 78.84 40.85 77.01 40.85 76.15 40.37 75.66 39.52 75.29 37.83 75.17 36.86 75.54 36.26 76.15 35.77 77.98 36.26 77.98 37.11 77.01 37.95 78.47 36.26 79.70 34.93 80.06 33.96 80.06 33.11 79.70 32.15 78.60 31.30 76.64 30.57 73.95 30.33 74.19 30.33 75.42 30.82 78.23 31.42 79.94 28.52 80.06ZM39.28 76.15 39.77 76.52 39.77 76.88 38.80 77.74 38.07 76.52 38.68 76.15ZM137.24 77.50 137.00 75.66 136.39 74.32 135.54 73.58 134.58 73.58 133.85 74.19 133.25 75.54 133.25 77.74 134.21 78.47 135.06 78.60 135.67 78.35 136.39 77.62 136.63 79.08 134.34 79.94 131.19 80.06 130.71 79.82 129.98 79.08 129.26 77.62 128.65 75.54 127.93 76.88 128.53 78.84 128.05 79.45 126.84 80.06 125.02 80.06 124.54 79.82 121.88 76.64 120.79 76.76 120.07 77.13 117.04 79.94 116.07 79.94 114.99 78.84 113.78 75.54 113.05 76.88 113.66 78.96 112.45 79.94 102.41 79.94 101.80 79.70 100.96 78.72 100.96 76.39 100.59 76.52 100.35 77.50 100.35 79.57 101.08 80.67 102.65 81.41 112.20 81.41 113.17 80.92 114.02 79.82 115.23 81.16 115.83 81.41 116.92 81.41 117.53 81.16 118.73 79.82 119.10 80.80 120.07 81.53 121.76 81.65 122.24 81.41 122.73 80.43 124.54 81.41 127.08 81.41 127.68 81.16 128.89 79.70 129.50 80.67 130.59 81.41 133.37 81.41 134.82 81.16 137.00 80.19ZM119.22 79.21 119.94 78.35 120.91 77.74 122.36 79.82 121.76 80.19 120.55 80.19 119.58 79.82ZM134.58 74.93 135.06 75.05 136.27 76.52 136.03 77.01 134.58 77.13 133.85 76.52 133.85 76.03ZM106.16 73.58 105.31 74.44 106.40 75.42 107.25 74.44ZM219.47 73.46 218.63 74.44 219.59 75.42 220.44 74.44ZM199.40 78.60 199.52 80.06 199.88 80.55 200.73 80.92 202.06 80.80 203.51 79.21 203.87 80.19 204.72 81.16 205.44 81.41 209.31 81.41 209.80 80.92 210.28 79.70 210.28 77.37 209.56 75.54 208.83 76.88 209.68 79.45 209.31 80.06 205.56 80.06 204.96 79.82 203.87 78.47 202.90 73.46 202.54 74.32 202.54 75.29 200.36 76.76ZM202.66 76.15 202.90 76.52 203.27 78.60 202.30 79.45 200.73 79.33 200.49 79.08 200.73 77.98 201.94 76.52ZM108.33 72.97 107.49 73.95 108.58 74.80 109.30 73.83ZM43.88 71.99 43.03 72.97 44.00 73.95 44.84 72.97ZM208.35 71.87 207.62 72.73 208.59 73.70 209.43 72.73 208.59 71.87ZM149.21 71.87 148.24 72.73 149.33 73.70 150.18 72.73ZM58.87 71.87 58.03 72.73 58.99 73.70 59.84 72.73ZM173.52 71.75 172.67 72.60 173.76 73.58 174.61 72.60ZM46.05 71.50 45.09 72.36 46.18 73.34 47.02 72.48ZM133.37 70.40 132.40 71.26 133.61 72.24 134.34 71.38ZM135.42 69.91 134.58 70.77 135.67 71.75 136.51 70.89ZM18.97 68.45 17.64 70.16 19.09 77.50 19.09 82.02 17.88 83.61 16.06 84.47 14.13 84.47 12.56 84.10 11.47 83.24 11.23 82.63 11.23 81.04 12.07 78.72 11.59 78.60 10.62 80.92 10.50 83.37 10.98 84.71 11.71 85.44 12.56 85.81 15.58 86.06 17.03 85.69 18.97 84.10 19.69 82.75 20.17 81.16 20.78 81.41 24.77 81.41 25.50 80.43 25.74 79.70 25.74 77.37 25.01 75.54 24.29 76.88 25.13 79.45 24.77 80.06 21.26 80.06 20.17 79.08 19.69 77.13ZM193.35 68.20 192.14 68.20 187.79 81.65 189.00 81.65ZM94.19 68.20 92.98 68.32 88.62 81.65 89.95 81.53ZM213.67 67.96 212.82 69.55 213.43 74.19 213.43 82.14 213.91 80.92 214.39 78.47 214.39 74.19ZM181.50 67.96 180.77 69.42 181.38 75.29 181.38 82.02 182.10 79.57 182.35 77.13 182.22 73.70ZM178.96 67.22 179.68 66.73 182.47 66.98 183.31 66.73 184.04 66.00 182.95 66.37 179.81 66.00 179.20 66.49Z" fill="#000" fill-rule="evenodd" stroke="#000" stroke-width="0.6" stroke-linejoin="round"/><text x="10.8" y="127" font-family="Liberation Serif" font-size="20" fill="#000" textLength="139.9" lengthAdjust="spacingAndGlyphs">1404/07/19 17:07</text><text x="10.1" y="162.3" font-family="Liberation Serif" font-size="20" fill="#000" textLength="119.3" lengthAdjust="spacingAndGlyphs">kingofuniverse</text><g fill="#131722"><path d="M10.1 778.4 H17.9 V787.7 H13.9 V781.4 H10.1 Z"/><circle cx="21.0" cy="780.3" r="1.75"/><path d="M23.9 778.4 H29.6 L25.8 787.7 H21.4 Z"/></g><text x="32.9" y="787.7" font-size="12.6" fill="#131722" textLength="70.4" lengthAdjust="spacingAndGlyphs">TradingView</text></svg>
</body></html>
